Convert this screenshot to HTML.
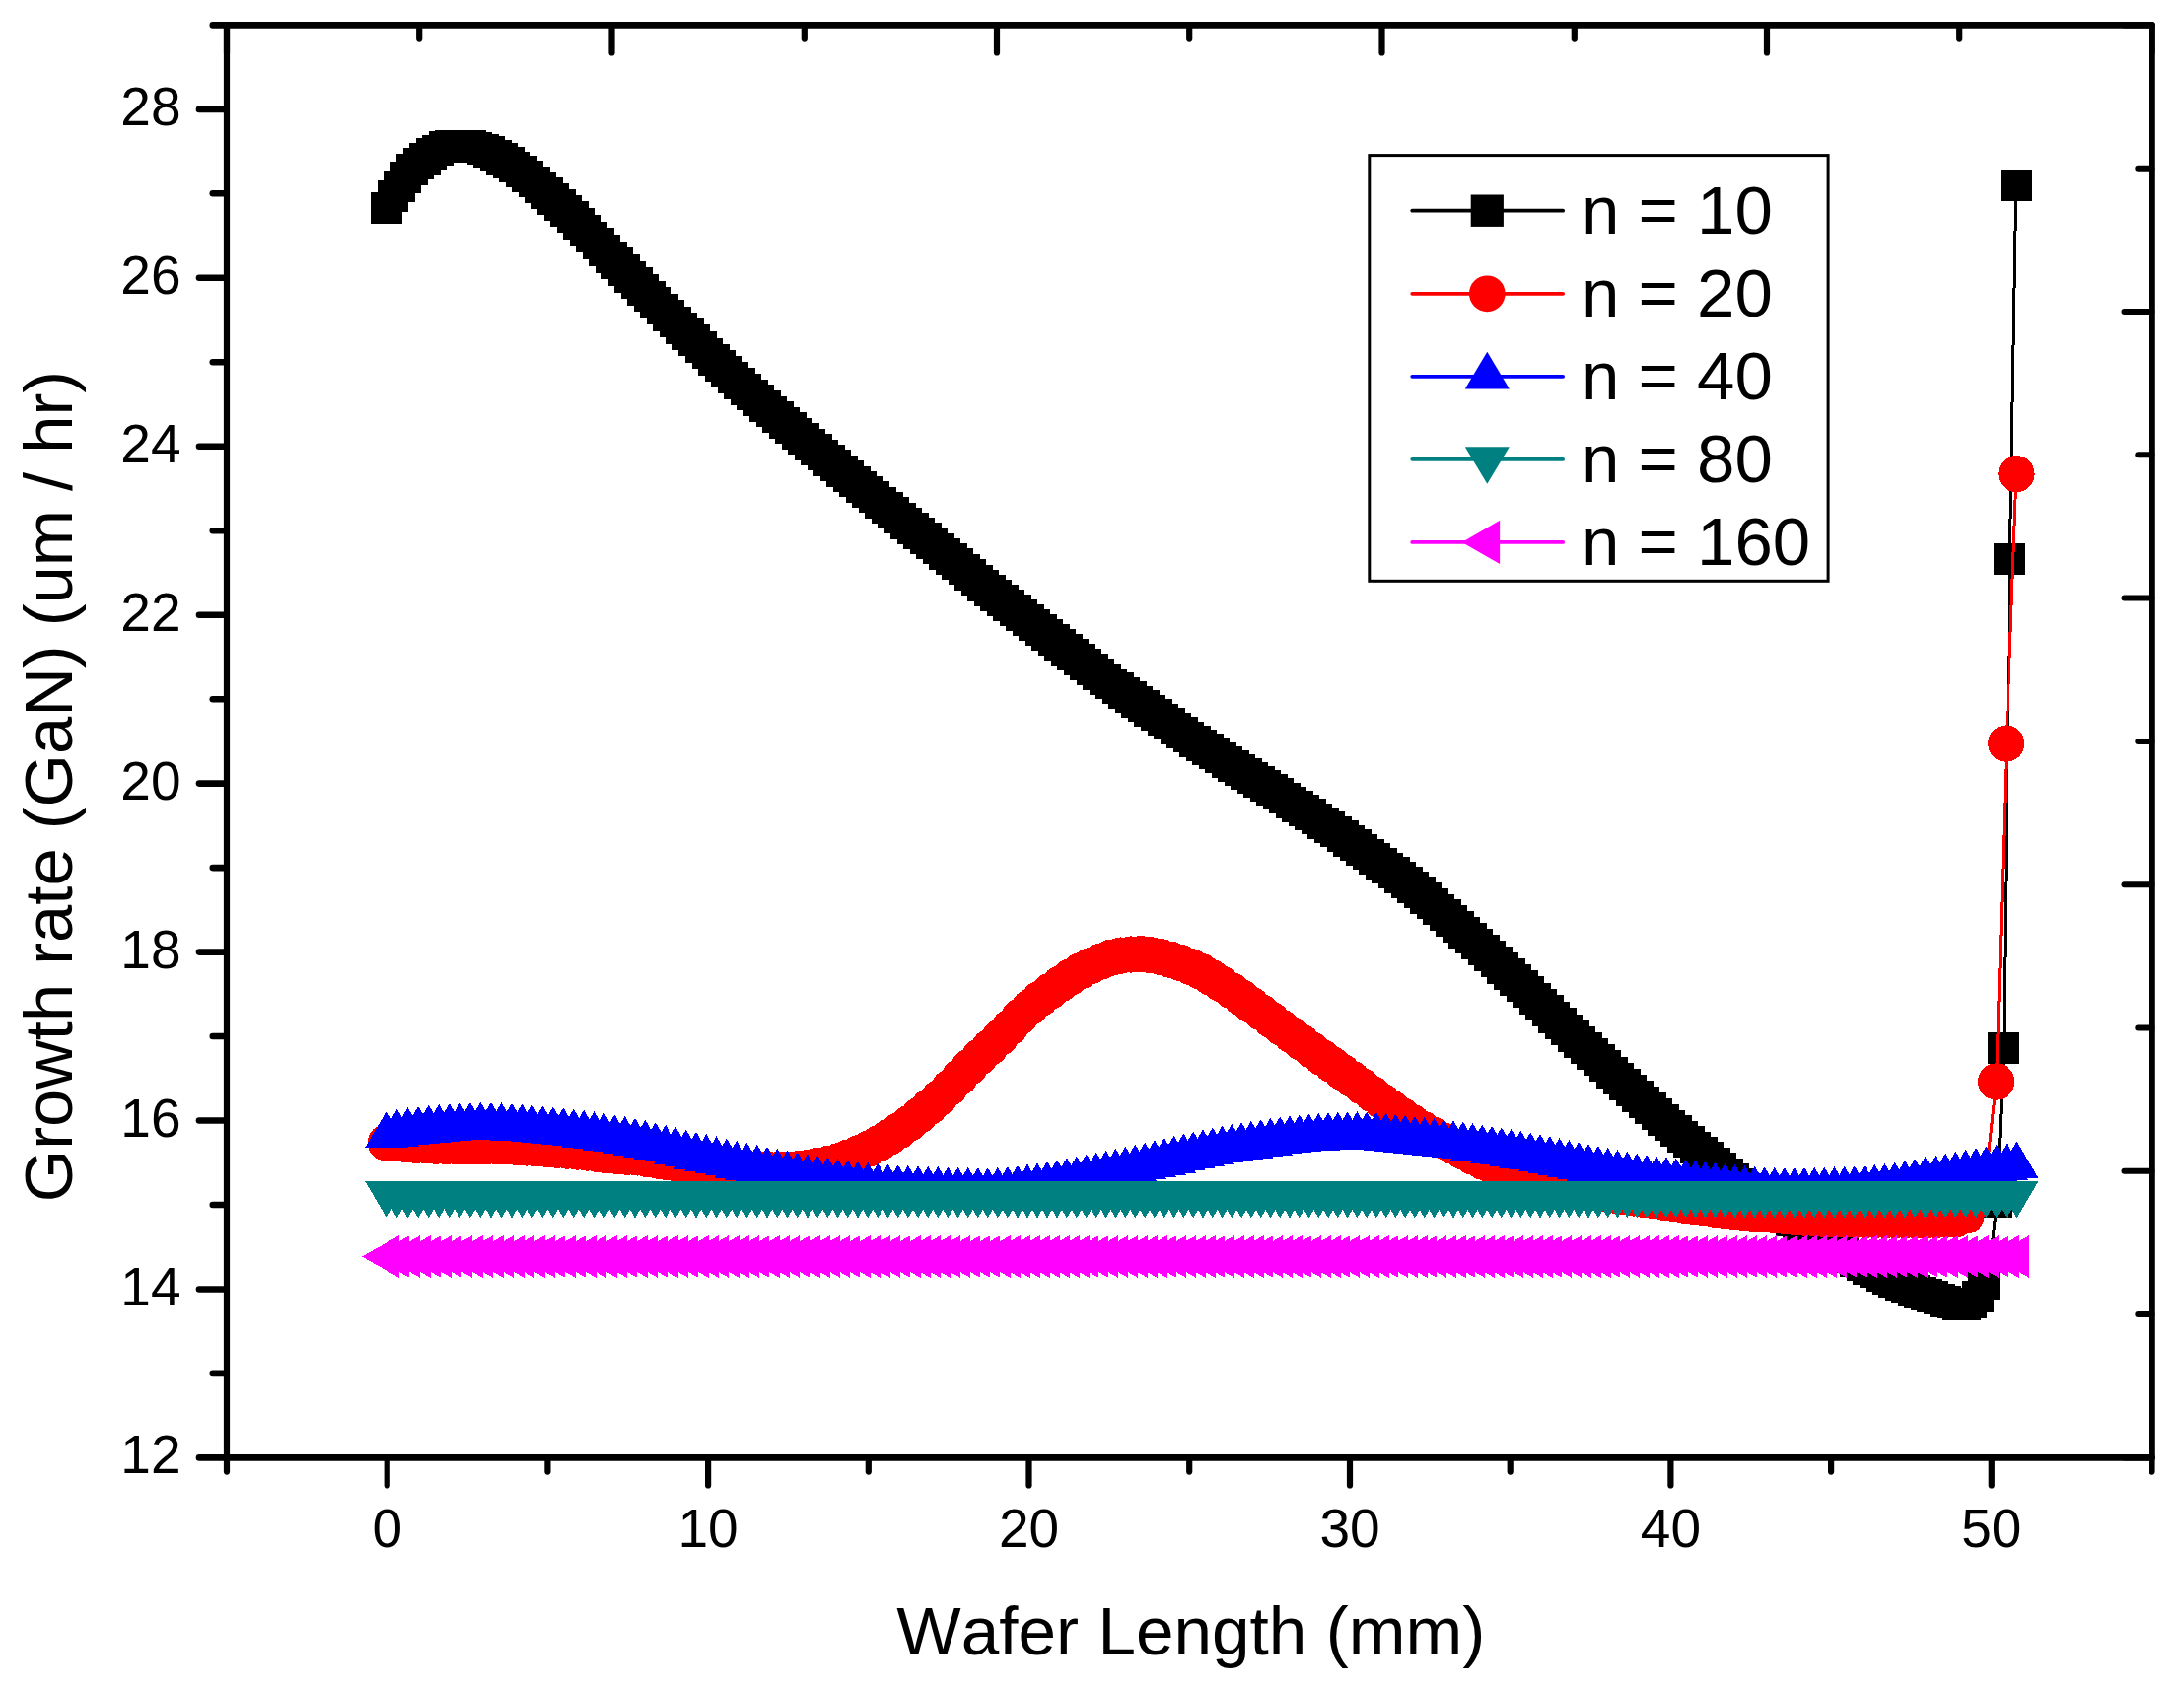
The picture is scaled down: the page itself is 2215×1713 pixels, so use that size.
<!DOCTYPE html>
<html lang="en"><head><meta charset="utf-8"><title>Growth rate (GaN) vs Wafer Length</title>
<style>html,body{margin:0;padding:0;background:#fff}svg{display:block}text{font-family:"Liberation Sans",sans-serif;fill:#000;font-kerning:none}</style></head><body>
<svg width="2215" height="1713" viewBox="0 0 2215 1713">
<rect width="2215" height="1713" fill="#fff"/>
<g shape-rendering="crispEdges">
<polyline points="392,211 398.5,199.2 405,188.8 411.5,180.2 418,172 424.5,165.9 431,160.6 437.5,156.3 444.1,152.4 450.6,149.1 457.1,148.2 463.6,148.1 470.1,148.1 476.6,148.3 483.1,149.5 489.6,151.5 496.1,154.2 502.6,157.5 509.1,161.1 515.6,165.1 522.1,169.5 528.6,174.1 535.2,179 541.7,184.4 548.2,190.1 554.7,195.8 561.2,201.6 567.7,207.7 574.2,213.9 580.7,220.2 587.2,226.8 593.7,233.6 600.2,240.5 606.7,247.3 613.2,254 619.7,260.7 626.3,267.3 632.8,274 639.3,280.6 645.8,287.2 652.3,293.8 658.8,300.4 665.3,306.9 671.8,313.5 678.3,320 684.8,326.4 691.3,332.7 697.8,338.9 704.3,345.2 710.8,351.7 717.4,358.4 723.9,364.7 730.4,370.9 736.9,377 743.4,383 749.9,388.9 756.4,394.7 762.9,400.4 769.4,406.1 775.9,411.8 782.4,417.5 788.9,423.2 795.4,428.8 801.9,434.3 808.5,439.8 815,445.3 821.5,450.7 828,456.1 834.5,461.5 841,466.9 847.5,472.3 854,477.7 860.5,483 867,488.4 873.5,493.7 880,499 886.5,504.3 893,509.6 899.6,514.9 906.1,520.1 912.6,525.4 919.1,530.7 925.6,535.9 932.1,541 938.6,546.2 945.1,551.3 951.6,556.5 958.1,561.7 964.6,566.9 971.1,572.2 977.6,577.5 984.1,582.9 990.7,588.5 997.2,593.8 1003.7,599.1 1010.2,604.2 1016.7,609.3 1023.2,614.3 1029.7,619.3 1036.2,624.2 1042.7,629.2 1049.2,634.2 1055.7,639.1 1062.2,644.2 1068.7,649.2 1075.2,654.2 1081.8,659.2 1088.3,664.2 1094.8,669.2 1101.3,674.2 1107.8,679 1114.3,683.9 1120.8,688.7 1127.3,693.4 1133.8,698 1140.3,702.7 1146.8,707.2 1153.3,711.8 1159.8,716.3 1166.3,720.8 1172.9,725.2 1179.4,729.7 1185.9,734.2 1192.4,738.6 1198.9,743 1205.4,747.4 1211.9,751.7 1218.4,755.9 1224.9,760.1 1231.4,764.3 1237.9,768.4 1244.4,772.6 1250.9,776.8 1257.4,780.9 1263.9,785 1270.5,789.1 1277,793.2 1283.5,797.2 1290,801.3 1296.5,805.3 1303,809.4 1309.5,813.6 1316,817.7 1322.5,821.9 1329,826.1 1335.5,830.4 1342,834.7 1348.5,839.1 1355,843.5 1361.6,848 1368.1,852.6 1374.6,857.1 1381.1,861.8 1387.6,866.4 1394.1,871.1 1400.6,875.8 1407.1,880.5 1413.6,885.1 1420.1,889.8 1426.6,894.6 1433.1,899.6 1439.6,905 1446.1,910.7 1452.7,916.5 1459.2,922.4 1465.7,928.3 1472.2,934 1478.7,939.8 1485.2,945.6 1491.7,951.5 1498.2,957.4 1504.7,963.4 1511.2,969.4 1517.7,975.5 1524.2,981.6 1530.7,987.7 1537.2,993.9 1543.8,1000.1 1550.3,1006.3 1556.8,1012.6 1563.3,1018.9 1569.8,1025.3 1576.3,1031.7 1582.8,1038.1 1589.3,1044.4 1595.8,1050.6 1602.3,1056.8 1608.8,1062.9 1615.3,1069 1621.8,1075.1 1628.3,1081.3 1634.9,1087.6 1641.4,1093.8 1647.9,1100 1654.4,1106.1 1660.9,1112.1 1667.4,1118.1 1673.9,1124.1 1680.4,1129.9 1686.9,1135.7 1693.4,1141.4 1699.9,1147.1 1706.4,1152.7 1712.9,1158.2 1719.4,1163.6 1726,1169 1732.5,1174.3 1739,1179.6 1745.5,1185 1752,1190.6 1758.5,1195.9 1765,1201.1 1771.5,1206.1 1778,1211.1 1784.5,1215.9 1791,1220.6 1797.5,1225.3 1804,1229.8 1810.5,1234.1 1817.1,1238.4 1823.6,1242.6 1830.1,1246.7 1836.6,1250.8 1843.1,1255 1849.6,1259.2 1856.1,1263.3 1862.6,1267.5 1869.1,1271.5 1875.6,1275.5 1882.1,1279.2 1888.6,1282.9 1895.1,1286.6 1901.6,1290.2 1908.2,1293.7 1914.7,1297.1 1921.2,1300.3 1927.7,1303.4 1934.2,1306.2 1940.7,1308.7 1947.2,1311.1 1953.7,1313.2 1960.2,1315.3 1966.7,1317.5 1973.2,1319.6 1979.7,1321.4 1986.2,1322.7 1992.7,1323.5 1999.3,1321.4 2005.8,1314.9 2012.3,1302.5 2018.8,1275 2025.3,1218.7 2031.8,1063.1 2038.3,567.2 2044.8,187.9" fill="none" stroke="#000" stroke-width="3" stroke-linejoin="round"/>
<path d="M376.1 195.1h31.8v31.8h-31.8zM382.6 183.3h31.8v31.8h-31.8zM389.1 172.9h31.8v31.8h-31.8zM395.6 164.3h31.8v31.8h-31.8zM402.1 156.1h31.8v31.8h-31.8zM408.6 150h31.8v31.8h-31.8zM415.1 144.7h31.8v31.8h-31.8zM421.6 140.4h31.8v31.8h-31.8zM428.2 136.5h31.8v31.8h-31.8zM434.7 133.2h31.8v31.8h-31.8zM441.2 132.3h31.8v31.8h-31.8zM447.7 132.2h31.8v31.8h-31.8zM454.2 132.2h31.8v31.8h-31.8zM460.7 132.4h31.8v31.8h-31.8zM467.2 133.6h31.8v31.8h-31.8zM473.7 135.6h31.8v31.8h-31.8zM480.2 138.3h31.8v31.8h-31.8zM486.7 141.6h31.8v31.8h-31.8zM493.2 145.2h31.8v31.8h-31.8zM499.7 149.2h31.8v31.8h-31.8zM506.2 153.6h31.8v31.8h-31.8zM512.7 158.2h31.8v31.8h-31.8zM519.3 163.1h31.8v31.8h-31.8zM525.8 168.5h31.8v31.8h-31.8zM532.3 174.2h31.8v31.8h-31.8zM538.8 179.9h31.8v31.8h-31.8zM545.3 185.7h31.8v31.8h-31.8zM551.8 191.8h31.8v31.8h-31.8zM558.3 198h31.8v31.8h-31.8zM564.8 204.3h31.8v31.8h-31.8zM571.3 210.9h31.8v31.8h-31.8zM577.8 217.7h31.8v31.8h-31.8zM584.3 224.6h31.8v31.8h-31.8zM590.8 231.4h31.8v31.8h-31.8zM597.3 238.1h31.8v31.8h-31.8zM603.8 244.8h31.8v31.8h-31.8zM610.4 251.4h31.8v31.8h-31.8zM616.9 258.1h31.8v31.8h-31.8zM623.4 264.7h31.8v31.8h-31.8zM629.9 271.3h31.8v31.8h-31.8zM636.4 277.9h31.8v31.8h-31.8zM642.9 284.5h31.8v31.8h-31.8zM649.4 291h31.8v31.8h-31.8zM655.9 297.6h31.8v31.8h-31.8zM662.4 304.1h31.8v31.8h-31.8zM668.9 310.5h31.8v31.8h-31.8zM675.4 316.8h31.8v31.8h-31.8zM681.9 323h31.8v31.8h-31.8zM688.4 329.3h31.8v31.8h-31.8zM694.9 335.8h31.8v31.8h-31.8zM701.5 342.5h31.8v31.8h-31.8zM708 348.8h31.8v31.8h-31.8zM714.5 355h31.8v31.8h-31.8zM721 361.1h31.8v31.8h-31.8zM727.5 367.1h31.8v31.8h-31.8zM734 373h31.8v31.8h-31.8zM740.5 378.8h31.8v31.8h-31.8zM747 384.5h31.8v31.8h-31.8zM753.5 390.2h31.8v31.8h-31.8zM760 395.9h31.8v31.8h-31.8zM766.5 401.6h31.8v31.8h-31.8zM773 407.3h31.8v31.8h-31.8zM779.5 412.9h31.8v31.8h-31.8zM786 418.4h31.8v31.8h-31.8zM792.6 423.9h31.8v31.8h-31.8zM799.1 429.4h31.8v31.8h-31.8zM805.6 434.8h31.8v31.8h-31.8zM812.1 440.2h31.8v31.8h-31.8zM818.6 445.6h31.8v31.8h-31.8zM825.1 451h31.8v31.8h-31.8zM831.6 456.4h31.8v31.8h-31.8zM838.1 461.8h31.8v31.8h-31.8zM844.6 467.1h31.8v31.8h-31.8zM851.1 472.5h31.8v31.8h-31.8zM857.6 477.8h31.8v31.8h-31.8zM864.1 483.1h31.8v31.8h-31.8zM870.6 488.4h31.8v31.8h-31.8zM877.1 493.7h31.8v31.8h-31.8zM883.7 499h31.8v31.8h-31.8zM890.2 504.2h31.8v31.8h-31.8zM896.7 509.5h31.8v31.8h-31.8zM903.2 514.8h31.8v31.8h-31.8zM909.7 520h31.8v31.8h-31.8zM916.2 525.1h31.8v31.8h-31.8zM922.7 530.3h31.8v31.8h-31.8zM929.2 535.4h31.8v31.8h-31.8zM935.7 540.6h31.8v31.8h-31.8zM942.2 545.8h31.8v31.8h-31.8zM948.7 551h31.8v31.8h-31.8zM955.2 556.3h31.8v31.8h-31.8zM961.7 561.6h31.8v31.8h-31.8zM968.2 567h31.8v31.8h-31.8zM974.8 572.6h31.8v31.8h-31.8zM981.3 577.9h31.8v31.8h-31.8zM987.8 583.2h31.8v31.8h-31.8zM994.3 588.3h31.8v31.8h-31.8zM1000.8 593.4h31.8v31.8h-31.8zM1007.3 598.4h31.8v31.8h-31.8zM1013.8 603.4h31.8v31.8h-31.8zM1020.3 608.3h31.8v31.8h-31.8zM1026.8 613.3h31.8v31.8h-31.8zM1033.3 618.3h31.8v31.8h-31.8zM1039.8 623.2h31.8v31.8h-31.8zM1046.3 628.3h31.8v31.8h-31.8zM1052.8 633.3h31.8v31.8h-31.8zM1059.3 638.3h31.8v31.8h-31.8zM1065.9 643.3h31.8v31.8h-31.8zM1072.4 648.3h31.8v31.8h-31.8zM1078.9 653.3h31.8v31.8h-31.8zM1085.4 658.3h31.8v31.8h-31.8zM1091.9 663.1h31.8v31.8h-31.8zM1098.4 668h31.8v31.8h-31.8zM1104.9 672.8h31.8v31.8h-31.8zM1111.4 677.5h31.8v31.8h-31.8zM1117.9 682.1h31.8v31.8h-31.8zM1124.4 686.8h31.8v31.8h-31.8zM1130.9 691.3h31.8v31.8h-31.8zM1137.4 695.9h31.8v31.8h-31.8zM1143.9 700.4h31.8v31.8h-31.8zM1150.4 704.9h31.8v31.8h-31.8zM1157 709.3h31.8v31.8h-31.8zM1163.5 713.8h31.8v31.8h-31.8zM1170 718.3h31.8v31.8h-31.8zM1176.5 722.7h31.8v31.8h-31.8zM1183 727.1h31.8v31.8h-31.8zM1189.5 731.5h31.8v31.8h-31.8zM1196 735.8h31.8v31.8h-31.8zM1202.5 740h31.8v31.8h-31.8zM1209 744.2h31.8v31.8h-31.8zM1215.5 748.4h31.8v31.8h-31.8zM1222 752.5h31.8v31.8h-31.8zM1228.5 756.7h31.8v31.8h-31.8zM1235 760.9h31.8v31.8h-31.8zM1241.5 765h31.8v31.8h-31.8zM1248 769.1h31.8v31.8h-31.8zM1254.6 773.2h31.8v31.8h-31.8zM1261.1 777.3h31.8v31.8h-31.8zM1267.6 781.3h31.8v31.8h-31.8zM1274.1 785.4h31.8v31.8h-31.8zM1280.6 789.4h31.8v31.8h-31.8zM1287.1 793.5h31.8v31.8h-31.8zM1293.6 797.7h31.8v31.8h-31.8zM1300.1 801.8h31.8v31.8h-31.8zM1306.6 806h31.8v31.8h-31.8zM1313.1 810.2h31.8v31.8h-31.8zM1319.6 814.5h31.8v31.8h-31.8zM1326.1 818.8h31.8v31.8h-31.8zM1332.6 823.2h31.8v31.8h-31.8zM1339.1 827.6h31.8v31.8h-31.8zM1345.7 832.1h31.8v31.8h-31.8zM1352.2 836.7h31.8v31.8h-31.8zM1358.7 841.2h31.8v31.8h-31.8zM1365.2 845.9h31.8v31.8h-31.8zM1371.7 850.5h31.8v31.8h-31.8zM1378.2 855.2h31.8v31.8h-31.8zM1384.7 859.9h31.8v31.8h-31.8zM1391.2 864.6h31.8v31.8h-31.8zM1397.7 869.2h31.8v31.8h-31.8zM1404.2 873.9h31.8v31.8h-31.8zM1410.7 878.7h31.8v31.8h-31.8zM1417.2 883.7h31.8v31.8h-31.8zM1423.7 889.1h31.8v31.8h-31.8zM1430.2 894.8h31.8v31.8h-31.8zM1436.8 900.6h31.8v31.8h-31.8zM1443.3 906.5h31.8v31.8h-31.8zM1449.8 912.4h31.8v31.8h-31.8zM1456.3 918.1h31.8v31.8h-31.8zM1462.8 923.9h31.8v31.8h-31.8zM1469.3 929.7h31.8v31.8h-31.8zM1475.8 935.6h31.8v31.8h-31.8zM1482.3 941.5h31.8v31.8h-31.8zM1488.8 947.5h31.8v31.8h-31.8zM1495.3 953.5h31.8v31.8h-31.8zM1501.8 959.6h31.8v31.8h-31.8zM1508.3 965.7h31.8v31.8h-31.8zM1514.8 971.8h31.8v31.8h-31.8zM1521.3 978h31.8v31.8h-31.8zM1527.9 984.2h31.8v31.8h-31.8zM1534.4 990.4h31.8v31.8h-31.8zM1540.9 996.7h31.8v31.8h-31.8zM1547.4 1003h31.8v31.8h-31.8zM1553.9 1009.4h31.8v31.8h-31.8zM1560.4 1015.8h31.8v31.8h-31.8zM1566.9 1022.2h31.8v31.8h-31.8zM1573.4 1028.5h31.8v31.8h-31.8zM1579.9 1034.7h31.8v31.8h-31.8zM1586.4 1040.9h31.8v31.8h-31.8zM1592.9 1047h31.8v31.8h-31.8zM1599.4 1053.1h31.8v31.8h-31.8zM1605.9 1059.2h31.8v31.8h-31.8zM1612.4 1065.4h31.8v31.8h-31.8zM1619 1071.7h31.8v31.8h-31.8zM1625.5 1077.9h31.8v31.8h-31.8zM1632 1084.1h31.8v31.8h-31.8zM1638.5 1090.2h31.8v31.8h-31.8zM1645 1096.2h31.8v31.8h-31.8zM1651.5 1102.2h31.8v31.8h-31.8zM1658 1108.2h31.8v31.8h-31.8zM1664.5 1114h31.8v31.8h-31.8zM1671 1119.8h31.8v31.8h-31.8zM1677.5 1125.5h31.8v31.8h-31.8zM1684 1131.2h31.8v31.8h-31.8zM1690.5 1136.8h31.8v31.8h-31.8zM1697 1142.3h31.8v31.8h-31.8zM1703.5 1147.7h31.8v31.8h-31.8zM1710.1 1153.1h31.8v31.8h-31.8zM1716.6 1158.4h31.8v31.8h-31.8zM1723.1 1163.7h31.8v31.8h-31.8zM1729.6 1169.1h31.8v31.8h-31.8zM1736.1 1174.7h31.8v31.8h-31.8zM1742.6 1180h31.8v31.8h-31.8zM1749.1 1185.2h31.8v31.8h-31.8zM1755.6 1190.2h31.8v31.8h-31.8zM1762.1 1195.2h31.8v31.8h-31.8zM1768.6 1200h31.8v31.8h-31.8zM1775.1 1204.7h31.8v31.8h-31.8zM1781.6 1209.4h31.8v31.8h-31.8zM1788.1 1213.9h31.8v31.8h-31.8zM1794.6 1218.2h31.8v31.8h-31.8zM1801.2 1222.5h31.8v31.8h-31.8zM1807.7 1226.7h31.8v31.8h-31.8zM1814.2 1230.8h31.8v31.8h-31.8zM1820.7 1234.9h31.8v31.8h-31.8zM1827.2 1239.1h31.8v31.8h-31.8zM1833.7 1243.3h31.8v31.8h-31.8zM1840.2 1247.4h31.8v31.8h-31.8zM1846.7 1251.6h31.8v31.8h-31.8zM1853.2 1255.6h31.8v31.8h-31.8zM1859.7 1259.6h31.8v31.8h-31.8zM1866.2 1263.3h31.8v31.8h-31.8zM1872.7 1267h31.8v31.8h-31.8zM1879.2 1270.7h31.8v31.8h-31.8zM1885.7 1274.3h31.8v31.8h-31.8zM1892.3 1277.8h31.8v31.8h-31.8zM1898.8 1281.2h31.8v31.8h-31.8zM1905.3 1284.4h31.8v31.8h-31.8zM1911.8 1287.5h31.8v31.8h-31.8zM1918.3 1290.3h31.8v31.8h-31.8zM1924.8 1292.8h31.8v31.8h-31.8zM1931.3 1295.2h31.8v31.8h-31.8zM1937.8 1297.3h31.8v31.8h-31.8zM1944.3 1299.4h31.8v31.8h-31.8zM1950.8 1301.6h31.8v31.8h-31.8zM1957.3 1303.7h31.8v31.8h-31.8zM1963.8 1305.5h31.8v31.8h-31.8zM1970.3 1306.8h31.8v31.8h-31.8zM1976.8 1307.6h31.8v31.8h-31.8zM1983.4 1305.5h31.8v31.8h-31.8zM1989.9 1299h31.8v31.8h-31.8zM1996.4 1286.6h31.8v31.8h-31.8zM2002.9 1259.1h31.8v31.8h-31.8zM2009.4 1202.8h31.8v31.8h-31.8zM2015.9 1047.2h31.8v31.8h-31.8zM2022.4 551.3h31.8v31.8h-31.8zM2028.9 172h31.8v31.8h-31.8z" fill="#000"/>
<polyline points="391.3,1158.5 401.5,1159.4 411.7,1160.3 421.9,1160.9 432.1,1161.4 442.3,1161.8 452.5,1162.2 462.8,1162.3 473,1162.3 483.2,1162.3 493.4,1162.3 503.6,1162.3 513.8,1162.5 524,1162.9 534.2,1163.6 544.4,1164.3 554.6,1165 564.8,1165.8 575,1166.7 585.3,1167.6 595.5,1168.7 605.7,1169.9 615.9,1171.1 626.1,1172.1 636.3,1172.8 646.5,1173.6 656.7,1175.1 666.9,1176.7 677.1,1178.3 687.3,1179.6 697.5,1180.8 707.7,1182.1 718,1183.2 728.2,1184.3 738.4,1185.2 748.6,1185.7 758.8,1186 769,1186 779.2,1186 789.4,1186 799.6,1185.9 809.8,1185.2 820,1183.8 830.2,1181.9 840.5,1179.9 850.7,1177.2 860.9,1173.5 871.1,1169.2 881.3,1164.5 891.5,1159.1 901.7,1153 911.9,1146.3 922.1,1139 932.3,1130.9 942.5,1122.1 952.7,1112.9 962.9,1102.8 973.2,1092.2 983.4,1081.6 993.6,1071.6 1003.8,1061.9 1014,1052 1024.2,1041.5 1034.4,1030.6 1044.6,1021.3 1054.8,1012.7 1065,1004.9 1075.2,997.6 1085.4,990.6 1095.7,984.4 1105.9,979.4 1116.1,974.8 1126.3,971 1136.5,968.7 1146.7,967.6 1156.9,967.3 1167.1,968.4 1177.3,970.2 1187.5,972.9 1197.7,976.3 1207.9,980.2 1218.2,985.1 1228.4,991 1238.6,997.4 1248.8,1004.1 1259,1011.4 1269.2,1019 1279.4,1026.5 1289.6,1034.2 1299.8,1041.9 1310,1049.4 1320.2,1057 1330.4,1064.5 1340.6,1072 1350.9,1079.4 1361.1,1086.8 1371.3,1094.1 1381.5,1101.5 1391.7,1109 1401.9,1116.6 1412.1,1124.1 1422.3,1131.3 1432.5,1138.3 1442.7,1144.8 1452.9,1150.6 1463.1,1156.3 1473.4,1161.9 1483.6,1167.4 1493.8,1172.7 1504,1177.7 1514.2,1182.3 1524.4,1186.6 1534.6,1190.3 1544.8,1193.6 1555,1196.3 1565.2,1198.7 1575.4,1201 1585.6,1203 1595.8,1205 1606.1,1206.8 1616.3,1208.5 1626.5,1210.1 1636.7,1211.6 1646.9,1213.1 1657.1,1214.6 1667.3,1216 1677.5,1217.4 1687.7,1218.9 1697.9,1220.3 1708.1,1221.8 1718.3,1223.1 1728.6,1224.5 1738.8,1225.8 1749,1227 1759.2,1228.2 1769.4,1229.4 1779.6,1230.4 1789.8,1231.3 1800,1232.2 1810.2,1233.1 1820.4,1234 1830.6,1234.8 1840.8,1235.5 1851,1236.1 1861.3,1236.5 1871.5,1236.7 1881.7,1236.8 1891.9,1236.9 1902.1,1237 1912.3,1237.1 1922.5,1237.2 1932.7,1237.2 1942.9,1237.2 1953.1,1237.2 1963.3,1237 1973.5,1236.7 1983.8,1236.3 1994,1232.5 2004.2,1216 2014.4,1192 2024.6,1096.6 2034.8,753.7 2045,480.2" fill="none" stroke="#f00" stroke-width="3" stroke-linejoin="round"/>
<path d="M372.7 1158.9a18.6 18.6 0 1 0 37.2 0a18.6 18.6 0 1 0 -37.2 0zM382.9 1159.8a18.6 18.6 0 1 0 37.2 0a18.6 18.6 0 1 0 -37.2 0zM393.1 1160.7a18.6 18.6 0 1 0 37.2 0a18.6 18.6 0 1 0 -37.2 0zM403.3 1161.3a18.6 18.6 0 1 0 37.2 0a18.6 18.6 0 1 0 -37.2 0zM413.5 1161.8a18.6 18.6 0 1 0 37.2 0a18.6 18.6 0 1 0 -37.2 0zM423.7 1162.2a18.6 18.6 0 1 0 37.2 0a18.6 18.6 0 1 0 -37.2 0zM433.9 1162.6a18.6 18.6 0 1 0 37.2 0a18.6 18.6 0 1 0 -37.2 0zM444.2 1162.7a18.6 18.6 0 1 0 37.2 0a18.6 18.6 0 1 0 -37.2 0zM454.4 1162.7a18.6 18.6 0 1 0 37.2 0a18.6 18.6 0 1 0 -37.2 0zM464.6 1162.7a18.6 18.6 0 1 0 37.2 0a18.6 18.6 0 1 0 -37.2 0zM474.8 1162.7a18.6 18.6 0 1 0 37.2 0a18.6 18.6 0 1 0 -37.2 0zM485 1162.7a18.6 18.6 0 1 0 37.2 0a18.6 18.6 0 1 0 -37.2 0zM495.2 1162.9a18.6 18.6 0 1 0 37.2 0a18.6 18.6 0 1 0 -37.2 0zM505.4 1163.3a18.6 18.6 0 1 0 37.2 0a18.6 18.6 0 1 0 -37.2 0zM515.6 1164a18.6 18.6 0 1 0 37.2 0a18.6 18.6 0 1 0 -37.2 0zM525.8 1164.7a18.6 18.6 0 1 0 37.2 0a18.6 18.6 0 1 0 -37.2 0zM536 1165.4a18.6 18.6 0 1 0 37.2 0a18.6 18.6 0 1 0 -37.2 0zM546.2 1166.2a18.6 18.6 0 1 0 37.2 0a18.6 18.6 0 1 0 -37.2 0zM556.4 1167.1a18.6 18.6 0 1 0 37.2 0a18.6 18.6 0 1 0 -37.2 0zM566.7 1168a18.6 18.6 0 1 0 37.2 0a18.6 18.6 0 1 0 -37.2 0zM576.9 1169.1a18.6 18.6 0 1 0 37.2 0a18.6 18.6 0 1 0 -37.2 0zM587.1 1170.3a18.6 18.6 0 1 0 37.2 0a18.6 18.6 0 1 0 -37.2 0zM597.3 1171.5a18.6 18.6 0 1 0 37.2 0a18.6 18.6 0 1 0 -37.2 0zM607.5 1172.5a18.6 18.6 0 1 0 37.2 0a18.6 18.6 0 1 0 -37.2 0zM617.7 1173.2a18.6 18.6 0 1 0 37.2 0a18.6 18.6 0 1 0 -37.2 0zM627.9 1174a18.6 18.6 0 1 0 37.2 0a18.6 18.6 0 1 0 -37.2 0zM638.1 1175.5a18.6 18.6 0 1 0 37.2 0a18.6 18.6 0 1 0 -37.2 0zM648.3 1177.1a18.6 18.6 0 1 0 37.2 0a18.6 18.6 0 1 0 -37.2 0zM658.5 1178.7a18.6 18.6 0 1 0 37.2 0a18.6 18.6 0 1 0 -37.2 0zM668.7 1180a18.6 18.6 0 1 0 37.2 0a18.6 18.6 0 1 0 -37.2 0zM678.9 1181.2a18.6 18.6 0 1 0 37.2 0a18.6 18.6 0 1 0 -37.2 0zM689.1 1182.5a18.6 18.6 0 1 0 37.2 0a18.6 18.6 0 1 0 -37.2 0zM699.4 1183.6a18.6 18.6 0 1 0 37.2 0a18.6 18.6 0 1 0 -37.2 0zM709.6 1184.7a18.6 18.6 0 1 0 37.2 0a18.6 18.6 0 1 0 -37.2 0zM719.8 1185.6a18.6 18.6 0 1 0 37.2 0a18.6 18.6 0 1 0 -37.2 0zM730 1186.1a18.6 18.6 0 1 0 37.2 0a18.6 18.6 0 1 0 -37.2 0zM740.2 1186.4a18.6 18.6 0 1 0 37.2 0a18.6 18.6 0 1 0 -37.2 0zM750.4 1186.4a18.6 18.6 0 1 0 37.2 0a18.6 18.6 0 1 0 -37.2 0zM760.6 1186.4a18.6 18.6 0 1 0 37.2 0a18.6 18.6 0 1 0 -37.2 0zM770.8 1186.4a18.6 18.6 0 1 0 37.2 0a18.6 18.6 0 1 0 -37.2 0zM781 1186.3a18.6 18.6 0 1 0 37.2 0a18.6 18.6 0 1 0 -37.2 0zM791.2 1185.6a18.6 18.6 0 1 0 37.2 0a18.6 18.6 0 1 0 -37.2 0zM801.4 1184.2a18.6 18.6 0 1 0 37.2 0a18.6 18.6 0 1 0 -37.2 0zM811.6 1182.3a18.6 18.6 0 1 0 37.2 0a18.6 18.6 0 1 0 -37.2 0zM821.9 1180.3a18.6 18.6 0 1 0 37.2 0a18.6 18.6 0 1 0 -37.2 0zM832.1 1177.6a18.6 18.6 0 1 0 37.2 0a18.6 18.6 0 1 0 -37.2 0zM842.3 1173.9a18.6 18.6 0 1 0 37.2 0a18.6 18.6 0 1 0 -37.2 0zM852.5 1169.6a18.6 18.6 0 1 0 37.2 0a18.6 18.6 0 1 0 -37.2 0zM862.7 1164.9a18.6 18.6 0 1 0 37.2 0a18.6 18.6 0 1 0 -37.2 0zM872.9 1159.5a18.6 18.6 0 1 0 37.2 0a18.6 18.6 0 1 0 -37.2 0zM883.1 1153.4a18.6 18.6 0 1 0 37.2 0a18.6 18.6 0 1 0 -37.2 0zM893.3 1146.7a18.6 18.6 0 1 0 37.2 0a18.6 18.6 0 1 0 -37.2 0zM903.5 1139.4a18.6 18.6 0 1 0 37.2 0a18.6 18.6 0 1 0 -37.2 0zM913.7 1131.3a18.6 18.6 0 1 0 37.2 0a18.6 18.6 0 1 0 -37.2 0zM923.9 1122.5a18.6 18.6 0 1 0 37.2 0a18.6 18.6 0 1 0 -37.2 0zM934.1 1113.3a18.6 18.6 0 1 0 37.2 0a18.6 18.6 0 1 0 -37.2 0zM944.3 1103.2a18.6 18.6 0 1 0 37.2 0a18.6 18.6 0 1 0 -37.2 0zM954.6 1092.6a18.6 18.6 0 1 0 37.2 0a18.6 18.6 0 1 0 -37.2 0zM964.8 1082a18.6 18.6 0 1 0 37.2 0a18.6 18.6 0 1 0 -37.2 0zM975 1072a18.6 18.6 0 1 0 37.2 0a18.6 18.6 0 1 0 -37.2 0zM985.2 1062.3a18.6 18.6 0 1 0 37.2 0a18.6 18.6 0 1 0 -37.2 0zM995.4 1052.4a18.6 18.6 0 1 0 37.2 0a18.6 18.6 0 1 0 -37.2 0zM1005.6 1041.9a18.6 18.6 0 1 0 37.2 0a18.6 18.6 0 1 0 -37.2 0zM1015.8 1031a18.6 18.6 0 1 0 37.2 0a18.6 18.6 0 1 0 -37.2 0zM1026 1021.7a18.6 18.6 0 1 0 37.2 0a18.6 18.6 0 1 0 -37.2 0zM1036.2 1013.1a18.6 18.6 0 1 0 37.2 0a18.6 18.6 0 1 0 -37.2 0zM1046.4 1005.3a18.6 18.6 0 1 0 37.2 0a18.6 18.6 0 1 0 -37.2 0zM1056.6 998a18.6 18.6 0 1 0 37.2 0a18.6 18.6 0 1 0 -37.2 0zM1066.8 991a18.6 18.6 0 1 0 37.2 0a18.6 18.6 0 1 0 -37.2 0zM1077.1 984.8a18.6 18.6 0 1 0 37.2 0a18.6 18.6 0 1 0 -37.2 0zM1087.3 979.8a18.6 18.6 0 1 0 37.2 0a18.6 18.6 0 1 0 -37.2 0zM1097.5 975.2a18.6 18.6 0 1 0 37.2 0a18.6 18.6 0 1 0 -37.2 0zM1107.7 971.4a18.6 18.6 0 1 0 37.2 0a18.6 18.6 0 1 0 -37.2 0zM1117.9 969.1a18.6 18.6 0 1 0 37.2 0a18.6 18.6 0 1 0 -37.2 0zM1128.1 968a18.6 18.6 0 1 0 37.2 0a18.6 18.6 0 1 0 -37.2 0zM1138.3 967.7a18.6 18.6 0 1 0 37.2 0a18.6 18.6 0 1 0 -37.2 0zM1148.5 968.8a18.6 18.6 0 1 0 37.2 0a18.6 18.6 0 1 0 -37.2 0zM1158.7 970.6a18.6 18.6 0 1 0 37.2 0a18.6 18.6 0 1 0 -37.2 0zM1168.9 973.3a18.6 18.6 0 1 0 37.2 0a18.6 18.6 0 1 0 -37.2 0zM1179.1 976.7a18.6 18.6 0 1 0 37.2 0a18.6 18.6 0 1 0 -37.2 0zM1189.3 980.6a18.6 18.6 0 1 0 37.2 0a18.6 18.6 0 1 0 -37.2 0zM1199.6 985.5a18.6 18.6 0 1 0 37.2 0a18.6 18.6 0 1 0 -37.2 0zM1209.8 991.4a18.6 18.6 0 1 0 37.2 0a18.6 18.6 0 1 0 -37.2 0zM1220 997.8a18.6 18.6 0 1 0 37.2 0a18.6 18.6 0 1 0 -37.2 0zM1230.2 1004.5a18.6 18.6 0 1 0 37.2 0a18.6 18.6 0 1 0 -37.2 0zM1240.4 1011.8a18.6 18.6 0 1 0 37.2 0a18.6 18.6 0 1 0 -37.2 0zM1250.6 1019.4a18.6 18.6 0 1 0 37.2 0a18.6 18.6 0 1 0 -37.2 0zM1260.8 1026.9a18.6 18.6 0 1 0 37.2 0a18.6 18.6 0 1 0 -37.2 0zM1271 1034.6a18.6 18.6 0 1 0 37.2 0a18.6 18.6 0 1 0 -37.2 0zM1281.2 1042.3a18.6 18.6 0 1 0 37.2 0a18.6 18.6 0 1 0 -37.2 0zM1291.4 1049.8a18.6 18.6 0 1 0 37.2 0a18.6 18.6 0 1 0 -37.2 0zM1301.6 1057.4a18.6 18.6 0 1 0 37.2 0a18.6 18.6 0 1 0 -37.2 0zM1311.8 1064.9a18.6 18.6 0 1 0 37.2 0a18.6 18.6 0 1 0 -37.2 0zM1322 1072.4a18.6 18.6 0 1 0 37.2 0a18.6 18.6 0 1 0 -37.2 0zM1332.3 1079.8a18.6 18.6 0 1 0 37.2 0a18.6 18.6 0 1 0 -37.2 0zM1342.5 1087.2a18.6 18.6 0 1 0 37.2 0a18.6 18.6 0 1 0 -37.2 0zM1352.7 1094.5a18.6 18.6 0 1 0 37.2 0a18.6 18.6 0 1 0 -37.2 0zM1362.9 1101.9a18.6 18.6 0 1 0 37.2 0a18.6 18.6 0 1 0 -37.2 0zM1373.1 1109.4a18.6 18.6 0 1 0 37.2 0a18.6 18.6 0 1 0 -37.2 0zM1383.3 1117a18.6 18.6 0 1 0 37.2 0a18.6 18.6 0 1 0 -37.2 0zM1393.5 1124.5a18.6 18.6 0 1 0 37.2 0a18.6 18.6 0 1 0 -37.2 0zM1403.7 1131.7a18.6 18.6 0 1 0 37.2 0a18.6 18.6 0 1 0 -37.2 0zM1413.9 1138.7a18.6 18.6 0 1 0 37.2 0a18.6 18.6 0 1 0 -37.2 0zM1424.1 1145.2a18.6 18.6 0 1 0 37.2 0a18.6 18.6 0 1 0 -37.2 0zM1434.3 1151a18.6 18.6 0 1 0 37.2 0a18.6 18.6 0 1 0 -37.2 0zM1444.5 1156.7a18.6 18.6 0 1 0 37.2 0a18.6 18.6 0 1 0 -37.2 0zM1454.8 1162.3a18.6 18.6 0 1 0 37.2 0a18.6 18.6 0 1 0 -37.2 0zM1465 1167.8a18.6 18.6 0 1 0 37.2 0a18.6 18.6 0 1 0 -37.2 0zM1475.2 1173.1a18.6 18.6 0 1 0 37.2 0a18.6 18.6 0 1 0 -37.2 0zM1485.4 1178.1a18.6 18.6 0 1 0 37.2 0a18.6 18.6 0 1 0 -37.2 0zM1495.6 1182.7a18.6 18.6 0 1 0 37.2 0a18.6 18.6 0 1 0 -37.2 0zM1505.8 1187a18.6 18.6 0 1 0 37.2 0a18.6 18.6 0 1 0 -37.2 0zM1516 1190.7a18.6 18.6 0 1 0 37.2 0a18.6 18.6 0 1 0 -37.2 0zM1526.2 1194a18.6 18.6 0 1 0 37.2 0a18.6 18.6 0 1 0 -37.2 0zM1536.4 1196.7a18.6 18.6 0 1 0 37.2 0a18.6 18.6 0 1 0 -37.2 0zM1546.6 1199.1a18.6 18.6 0 1 0 37.2 0a18.6 18.6 0 1 0 -37.2 0zM1556.8 1201.4a18.6 18.6 0 1 0 37.2 0a18.6 18.6 0 1 0 -37.2 0zM1567 1203.4a18.6 18.6 0 1 0 37.2 0a18.6 18.6 0 1 0 -37.2 0zM1577.2 1205.4a18.6 18.6 0 1 0 37.2 0a18.6 18.6 0 1 0 -37.2 0zM1587.5 1207.2a18.6 18.6 0 1 0 37.2 0a18.6 18.6 0 1 0 -37.2 0zM1597.7 1208.9a18.6 18.6 0 1 0 37.2 0a18.6 18.6 0 1 0 -37.2 0zM1607.9 1210.5a18.6 18.6 0 1 0 37.2 0a18.6 18.6 0 1 0 -37.2 0zM1618.1 1212a18.6 18.6 0 1 0 37.2 0a18.6 18.6 0 1 0 -37.2 0zM1628.3 1213.5a18.6 18.6 0 1 0 37.2 0a18.6 18.6 0 1 0 -37.2 0zM1638.5 1215a18.6 18.6 0 1 0 37.2 0a18.6 18.6 0 1 0 -37.2 0zM1648.7 1216.4a18.6 18.6 0 1 0 37.2 0a18.6 18.6 0 1 0 -37.2 0zM1658.9 1217.8a18.6 18.6 0 1 0 37.2 0a18.6 18.6 0 1 0 -37.2 0zM1669.1 1219.3a18.6 18.6 0 1 0 37.2 0a18.6 18.6 0 1 0 -37.2 0zM1679.3 1220.7a18.6 18.6 0 1 0 37.2 0a18.6 18.6 0 1 0 -37.2 0zM1689.5 1222.2a18.6 18.6 0 1 0 37.2 0a18.6 18.6 0 1 0 -37.2 0zM1699.7 1223.5a18.6 18.6 0 1 0 37.2 0a18.6 18.6 0 1 0 -37.2 0zM1710 1224.9a18.6 18.6 0 1 0 37.2 0a18.6 18.6 0 1 0 -37.2 0zM1720.2 1226.2a18.6 18.6 0 1 0 37.2 0a18.6 18.6 0 1 0 -37.2 0zM1730.4 1227.4a18.6 18.6 0 1 0 37.2 0a18.6 18.6 0 1 0 -37.2 0zM1740.6 1228.6a18.6 18.6 0 1 0 37.2 0a18.6 18.6 0 1 0 -37.2 0zM1750.8 1229.8a18.6 18.6 0 1 0 37.2 0a18.6 18.6 0 1 0 -37.2 0zM1761 1230.8a18.6 18.6 0 1 0 37.2 0a18.6 18.6 0 1 0 -37.2 0zM1771.2 1231.7a18.6 18.6 0 1 0 37.2 0a18.6 18.6 0 1 0 -37.2 0zM1781.4 1232.6a18.6 18.6 0 1 0 37.2 0a18.6 18.6 0 1 0 -37.2 0zM1791.6 1233.5a18.6 18.6 0 1 0 37.2 0a18.6 18.6 0 1 0 -37.2 0zM1801.8 1234.4a18.6 18.6 0 1 0 37.2 0a18.6 18.6 0 1 0 -37.2 0zM1812 1235.2a18.6 18.6 0 1 0 37.2 0a18.6 18.6 0 1 0 -37.2 0zM1822.2 1235.9a18.6 18.6 0 1 0 37.2 0a18.6 18.6 0 1 0 -37.2 0zM1832.4 1236.5a18.6 18.6 0 1 0 37.2 0a18.6 18.6 0 1 0 -37.2 0zM1842.7 1236.9a18.6 18.6 0 1 0 37.2 0a18.6 18.6 0 1 0 -37.2 0zM1852.9 1237.1a18.6 18.6 0 1 0 37.2 0a18.6 18.6 0 1 0 -37.2 0zM1863.1 1237.2a18.6 18.6 0 1 0 37.2 0a18.6 18.6 0 1 0 -37.2 0zM1873.3 1237.3a18.6 18.6 0 1 0 37.2 0a18.6 18.6 0 1 0 -37.2 0zM1883.5 1237.4a18.6 18.6 0 1 0 37.2 0a18.6 18.6 0 1 0 -37.2 0zM1893.7 1237.5a18.6 18.6 0 1 0 37.2 0a18.6 18.6 0 1 0 -37.2 0zM1903.9 1237.6a18.6 18.6 0 1 0 37.2 0a18.6 18.6 0 1 0 -37.2 0zM1914.1 1237.6a18.6 18.6 0 1 0 37.2 0a18.6 18.6 0 1 0 -37.2 0zM1924.3 1237.6a18.6 18.6 0 1 0 37.2 0a18.6 18.6 0 1 0 -37.2 0zM1934.5 1237.6a18.6 18.6 0 1 0 37.2 0a18.6 18.6 0 1 0 -37.2 0zM1944.7 1237.4a18.6 18.6 0 1 0 37.2 0a18.6 18.6 0 1 0 -37.2 0zM1954.9 1237.1a18.6 18.6 0 1 0 37.2 0a18.6 18.6 0 1 0 -37.2 0zM1965.2 1236.7a18.6 18.6 0 1 0 37.2 0a18.6 18.6 0 1 0 -37.2 0zM1975.4 1232.9a18.6 18.6 0 1 0 37.2 0a18.6 18.6 0 1 0 -37.2 0zM1985.6 1216.4a18.6 18.6 0 1 0 37.2 0a18.6 18.6 0 1 0 -37.2 0zM1995.8 1192.4a18.6 18.6 0 1 0 37.2 0a18.6 18.6 0 1 0 -37.2 0zM2006 1097a18.6 18.6 0 1 0 37.2 0a18.6 18.6 0 1 0 -37.2 0zM2016.2 754.1a18.6 18.6 0 1 0 37.2 0a18.6 18.6 0 1 0 -37.2 0zM2026.4 480.6a18.6 18.6 0 1 0 37.2 0a18.6 18.6 0 1 0 -37.2 0z" fill="#f00"/>
<polyline points="392.2,1151.8 402.8,1150 413.5,1148.4 424.1,1147.1 434.7,1145.9 445.2,1145.1 455.8,1144.3 466.4,1143.6 476.9,1143.1 487.4,1142.9 498,1143 508.5,1143.4 519,1144 529.4,1144.8 539.9,1145.7 550.4,1146.6 560.8,1147.6 571.3,1148.6 581.7,1149.7 592.1,1151 602.5,1152.5 612.9,1154 623.3,1155.6 633.7,1157.3 644,1159.1 654.4,1161.1 664.7,1163.4 675.1,1165.8 685.4,1168.3 695.7,1170.8 706,1173.1 716.3,1175.3 726.6,1177.5 736.9,1179.7 747.2,1181.9 757.5,1184 767.8,1186.1 778,1188.1 788.3,1190 798.5,1191.8 808.7,1193.6 819,1195.3 829.2,1197 839.4,1198.6 849.6,1200.2 859.8,1201.6 870,1203 880.2,1204.1 890.4,1205.1 900.6,1205.8 910.7,1206.4 920.9,1207 931.1,1207.5 941.2,1207.9 951.3,1208.2 961.4,1208.6 971.6,1209 981.7,1209.2 991.8,1209.4 1001.8,1209.5 1011.9,1209 1021.9,1208.1 1032,1206.9 1042,1205.8 1052,1204.5 1062,1203 1072,1201.3 1081.9,1199.5 1091.9,1197.7 1101.8,1195.7 1111.7,1193.8 1121.6,1191.9 1131.5,1190 1141.4,1188 1151.3,1185.9 1161.1,1183.7 1170.9,1181.5 1180.8,1179.2 1190.6,1177 1200.4,1174.8 1210.2,1172.6 1220,1170.6 1229.8,1168.6 1239.6,1166.8 1249.3,1165.1 1259.1,1163.5 1268.9,1162 1278.7,1160.5 1288.5,1159 1298.2,1157.7 1308,1156.5 1317.8,1155.6 1327.5,1154.8 1337.3,1154.1 1347.1,1153.5 1356.8,1153 1366.6,1152.6 1376.4,1152.5 1386.1,1152.7 1395.9,1153.2 1405.7,1154 1415.4,1154.9 1425.2,1156 1434.9,1157.1 1444.7,1158.2 1454.5,1159.2 1464.2,1160.3 1474,1161.6 1483.8,1162.8 1493.5,1164.2 1503.3,1165.7 1513.1,1167.2 1522.8,1168.7 1532.6,1170.3 1542.4,1171.9 1552.2,1173.6 1562,1175.4 1571.8,1177.3 1581.6,1179.3 1591.4,1181.3 1601.2,1183.2 1611,1185.2 1620.9,1187.2 1630.7,1189.2 1640.5,1191.1 1650.4,1193 1660.2,1194.7 1670.1,1196.2 1680,1197.5 1689.9,1198.6 1699.8,1199.7 1709.7,1200.8 1719.6,1201.8 1729.6,1202.8 1739.5,1203.9 1749.5,1205.1 1759.5,1206.2 1769.6,1207.3 1779.6,1208 1789.6,1208.6 1799.7,1209.1 1809.8,1209.3 1819.9,1209.3 1830,1209.1 1840.2,1209 1850.3,1208.8 1860.5,1208.5 1870.7,1208 1880.8,1207.5 1891,1206.9 1901.3,1206.2 1911.5,1205.1 1921.7,1203.7 1932,1202 1942.2,1200.3 1952.5,1198.6 1962.8,1196.7 1973.1,1194.8 1983.4,1192.9 1993.7,1191 2004.1,1189.3 2014.4,1187.6 2024.8,1186 2035.1,1184.4 2045.5,1182.8" fill="none" stroke="#00f" stroke-width="2.6" stroke-linejoin="round"/>
<path d="M392.2 1126.6l22.3 37.8h-44.6zM402.8 1124.8l22.3 37.8h-44.6zM413.5 1123.2l22.3 37.8h-44.6zM424.1 1121.9l22.3 37.8h-44.6zM434.7 1120.7l22.3 37.8h-44.6zM445.2 1119.9l22.3 37.8h-44.6zM455.8 1119.1l22.3 37.8h-44.6zM466.4 1118.4l22.3 37.8h-44.6zM476.9 1117.9l22.3 37.8h-44.6zM487.4 1117.7l22.3 37.8h-44.6zM498 1117.8l22.3 37.8h-44.6zM508.5 1118.2l22.3 37.8h-44.6zM519 1118.8l22.3 37.8h-44.6zM529.4 1119.6l22.3 37.8h-44.6zM539.9 1120.5l22.3 37.8h-44.6zM550.4 1121.4l22.3 37.8h-44.6zM560.8 1122.4l22.3 37.8h-44.6zM571.3 1123.4l22.3 37.8h-44.6zM581.7 1124.5l22.3 37.8h-44.6zM592.1 1125.8l22.3 37.8h-44.6zM602.5 1127.3l22.3 37.8h-44.6zM612.9 1128.8l22.3 37.8h-44.6zM623.3 1130.4l22.3 37.8h-44.6zM633.7 1132.1l22.3 37.8h-44.6zM644 1133.9l22.3 37.8h-44.6zM654.4 1135.9l22.3 37.8h-44.6zM664.7 1138.2l22.3 37.8h-44.6zM675.1 1140.6l22.3 37.8h-44.6zM685.4 1143.1l22.3 37.8h-44.6zM695.7 1145.6l22.3 37.8h-44.6zM706 1147.9l22.3 37.8h-44.6zM716.3 1150.1l22.3 37.8h-44.6zM726.6 1152.3l22.3 37.8h-44.6zM736.9 1154.5l22.3 37.8h-44.6zM747.2 1156.7l22.3 37.8h-44.6zM757.5 1158.8l22.3 37.8h-44.6zM767.8 1160.9l22.3 37.8h-44.6zM778 1162.9l22.3 37.8h-44.6zM788.3 1164.8l22.3 37.8h-44.6zM798.5 1166.6l22.3 37.8h-44.6zM808.7 1168.4l22.3 37.8h-44.6zM819 1170.1l22.3 37.8h-44.6zM829.2 1171.8l22.3 37.8h-44.6zM839.4 1173.4l22.3 37.8h-44.6zM849.6 1175l22.3 37.8h-44.6zM859.8 1176.4l22.3 37.8h-44.6zM870 1177.8l22.3 37.8h-44.6zM880.2 1178.9l22.3 37.8h-44.6zM890.4 1179.9l22.3 37.8h-44.6zM900.6 1180.6l22.3 37.8h-44.6zM910.7 1181.2l22.3 37.8h-44.6zM920.9 1181.8l22.3 37.8h-44.6zM931.1 1182.3l22.3 37.8h-44.6zM941.2 1182.7l22.3 37.8h-44.6zM951.3 1183l22.3 37.8h-44.6zM961.4 1183.4l22.3 37.8h-44.6zM971.6 1183.8l22.3 37.8h-44.6zM981.7 1184l22.3 37.8h-44.6zM991.8 1184.2l22.3 37.8h-44.6zM1001.8 1184.3l22.3 37.8h-44.6zM1011.9 1183.8l22.3 37.8h-44.6zM1021.9 1182.9l22.3 37.8h-44.6zM1032 1181.7l22.3 37.8h-44.6zM1042 1180.6l22.3 37.8h-44.6zM1052 1179.3l22.3 37.8h-44.6zM1062 1177.8l22.3 37.8h-44.6zM1072 1176.1l22.3 37.8h-44.6zM1081.9 1174.3l22.3 37.8h-44.6zM1091.9 1172.5l22.3 37.8h-44.6zM1101.8 1170.5l22.3 37.8h-44.6zM1111.7 1168.6l22.3 37.8h-44.6zM1121.6 1166.7l22.3 37.8h-44.6zM1131.5 1164.8l22.3 37.8h-44.6zM1141.4 1162.8l22.3 37.8h-44.6zM1151.3 1160.7l22.3 37.8h-44.6zM1161.1 1158.5l22.3 37.8h-44.6zM1170.9 1156.3l22.3 37.8h-44.6zM1180.8 1154l22.3 37.8h-44.6zM1190.6 1151.8l22.3 37.8h-44.6zM1200.4 1149.6l22.3 37.8h-44.6zM1210.2 1147.4l22.3 37.8h-44.6zM1220 1145.4l22.3 37.8h-44.6zM1229.8 1143.4l22.3 37.8h-44.6zM1239.6 1141.6l22.3 37.8h-44.6zM1249.3 1139.9l22.3 37.8h-44.6zM1259.1 1138.3l22.3 37.8h-44.6zM1268.9 1136.8l22.3 37.8h-44.6zM1278.7 1135.3l22.3 37.8h-44.6zM1288.5 1133.8l22.3 37.8h-44.6zM1298.2 1132.5l22.3 37.8h-44.6zM1308 1131.3l22.3 37.8h-44.6zM1317.8 1130.4l22.3 37.8h-44.6zM1327.5 1129.6l22.3 37.8h-44.6zM1337.3 1128.9l22.3 37.8h-44.6zM1347.1 1128.3l22.3 37.8h-44.6zM1356.8 1127.8l22.3 37.8h-44.6zM1366.6 1127.4l22.3 37.8h-44.6zM1376.4 1127.3l22.3 37.8h-44.6zM1386.1 1127.5l22.3 37.8h-44.6zM1395.9 1128l22.3 37.8h-44.6zM1405.7 1128.8l22.3 37.8h-44.6zM1415.4 1129.7l22.3 37.8h-44.6zM1425.2 1130.8l22.3 37.8h-44.6zM1434.9 1131.9l22.3 37.8h-44.6zM1444.7 1133l22.3 37.8h-44.6zM1454.5 1134l22.3 37.8h-44.6zM1464.2 1135.1l22.3 37.8h-44.6zM1474 1136.4l22.3 37.8h-44.6zM1483.8 1137.6l22.3 37.8h-44.6zM1493.5 1139l22.3 37.8h-44.6zM1503.3 1140.5l22.3 37.8h-44.6zM1513.1 1142l22.3 37.8h-44.6zM1522.8 1143.5l22.3 37.8h-44.6zM1532.6 1145.1l22.3 37.8h-44.6zM1542.4 1146.7l22.3 37.8h-44.6zM1552.2 1148.4l22.3 37.8h-44.6zM1562 1150.2l22.3 37.8h-44.6zM1571.8 1152.1l22.3 37.8h-44.6zM1581.6 1154.1l22.3 37.8h-44.6zM1591.4 1156.1l22.3 37.8h-44.6zM1601.2 1158l22.3 37.8h-44.6zM1611 1160l22.3 37.8h-44.6zM1620.9 1162l22.3 37.8h-44.6zM1630.7 1164l22.3 37.8h-44.6zM1640.5 1165.9l22.3 37.8h-44.6zM1650.4 1167.8l22.3 37.8h-44.6zM1660.2 1169.5l22.3 37.8h-44.6zM1670.1 1171l22.3 37.8h-44.6zM1680 1172.3l22.3 37.8h-44.6zM1689.9 1173.4l22.3 37.8h-44.6zM1699.8 1174.5l22.3 37.8h-44.6zM1709.7 1175.6l22.3 37.8h-44.6zM1719.6 1176.6l22.3 37.8h-44.6zM1729.6 1177.6l22.3 37.8h-44.6zM1739.5 1178.7l22.3 37.8h-44.6zM1749.5 1179.9l22.3 37.8h-44.6zM1759.5 1181l22.3 37.8h-44.6zM1769.6 1182.1l22.3 37.8h-44.6zM1779.6 1182.8l22.3 37.8h-44.6zM1789.6 1183.4l22.3 37.8h-44.6zM1799.7 1183.9l22.3 37.8h-44.6zM1809.8 1184.1l22.3 37.8h-44.6zM1819.9 1184.1l22.3 37.8h-44.6zM1830 1183.9l22.3 37.8h-44.6zM1840.2 1183.8l22.3 37.8h-44.6zM1850.3 1183.6l22.3 37.8h-44.6zM1860.5 1183.3l22.3 37.8h-44.6zM1870.7 1182.8l22.3 37.8h-44.6zM1880.8 1182.3l22.3 37.8h-44.6zM1891 1181.7l22.3 37.8h-44.6zM1901.3 1181l22.3 37.8h-44.6zM1911.5 1179.9l22.3 37.8h-44.6zM1921.7 1178.5l22.3 37.8h-44.6zM1932 1176.8l22.3 37.8h-44.6zM1942.2 1175.1l22.3 37.8h-44.6zM1952.5 1173.4l22.3 37.8h-44.6zM1962.8 1171.5l22.3 37.8h-44.6zM1973.1 1169.6l22.3 37.8h-44.6zM1983.4 1167.7l22.3 37.8h-44.6zM1993.7 1165.8l22.3 37.8h-44.6zM2004.1 1164.1l22.3 37.8h-44.6zM2014.4 1162.4l22.3 37.8h-44.6zM2024.8 1160.8l22.3 37.8h-44.6zM2035.1 1159.2l22.3 37.8h-44.6zM2045.5 1157.6l22.3 37.8h-44.6z" fill="#00f"/>
<polyline points="392.2,1210.2 402.8,1210.2 413.5,1210.2 424.1,1210.2 434.7,1210.2 445.2,1210.2 455.8,1210.2 466.4,1210.2 476.9,1210.2 487.4,1210.2 498,1210.2 508.5,1210.2 519,1210.2 529.4,1210.2 539.9,1210.2 550.4,1210.2 560.8,1210.2 571.3,1210.2 581.7,1210.2 592.1,1210.2 602.5,1210.2 612.9,1210.2 623.3,1210.2 633.7,1210.2 644,1210.2 654.4,1210.2 664.7,1210.2 675.1,1210.2 685.4,1210.2 695.7,1210.2 706,1210.2 716.3,1210.2 726.6,1210.2 736.9,1210.2 747.2,1210.2 757.5,1210.2 767.8,1210.2 778,1210.2 788.3,1210.2 798.5,1210.2 808.7,1210.2 819,1210.2 829.2,1210.2 839.4,1210.2 849.6,1210.2 859.8,1210.2 870,1210.2 880.2,1210.2 890.4,1210.2 900.6,1210.2 910.7,1210.2 920.9,1210.2 931.1,1210.2 941.2,1210.2 951.3,1210.2 961.4,1210.2 971.6,1210.2 981.7,1210.2 991.8,1210.2 1001.8,1210.2 1011.9,1210.2 1021.9,1210.2 1032,1210.2 1042,1210.2 1052,1210.2 1062,1210.2 1072,1210.2 1081.9,1210.2 1091.9,1210.2 1101.8,1210.2 1111.7,1210.2 1121.6,1210.2 1131.5,1210.2 1141.4,1210.2 1151.3,1210.2 1161.1,1210.2 1170.9,1210.2 1180.8,1210.2 1190.6,1210.2 1200.4,1210.2 1210.2,1210.2 1220,1210.2 1229.8,1210.2 1239.6,1210.2 1249.3,1210.2 1259.1,1210.2 1268.9,1210.2 1278.7,1210.2 1288.5,1210.2 1298.2,1210.2 1308,1210.2 1317.8,1210.2 1327.5,1210.2 1337.3,1210.2 1347.1,1210.2 1356.8,1210.2 1366.6,1210.2 1376.4,1210.2 1386.1,1210.2 1395.9,1210.2 1405.7,1210.2 1415.4,1210.2 1425.2,1210.2 1434.9,1210.2 1444.7,1210.2 1454.5,1210.2 1464.2,1210.2 1474,1210.2 1483.8,1210.2 1493.5,1210.2 1503.3,1210.2 1513.1,1210.2 1522.8,1210.2 1532.6,1210.2 1542.4,1210.2 1552.2,1210.2 1562,1210.2 1571.8,1210.2 1581.6,1210.2 1591.4,1210.2 1601.2,1210.2 1611,1210.2 1620.9,1210.2 1630.7,1210.2 1640.5,1210.2 1650.4,1210.2 1660.2,1210.2 1670.1,1210.2 1680,1210.2 1689.9,1210.2 1699.8,1210.2 1709.7,1210.2 1719.6,1210.2 1729.6,1210.2 1739.5,1210.2 1749.5,1210.2 1759.5,1210.2 1769.6,1210.2 1779.6,1210.2 1789.6,1210.2 1799.7,1210.2 1809.8,1210.2 1819.9,1210.2 1830,1210.2 1840.2,1210.2 1850.3,1210.2 1860.5,1210.2 1870.7,1210.2 1880.8,1210.2 1891,1210.2 1901.3,1210.2 1911.5,1210.2 1921.7,1210.2 1932,1210.2 1942.2,1210.2 1952.5,1210.2 1962.8,1210.2 1973.1,1210.2 1983.4,1210.2 1993.7,1210.2 2004.1,1210.2 2014.4,1210.2 2024.8,1210.2 2035.1,1210.2 2045.5,1210.2" fill="none" stroke="#008080" stroke-width="2.6" stroke-linejoin="round"/>
<path d="M392.2 1235.4l22.3 -37.8h-44.6zM402.8 1235.4l22.3 -37.8h-44.6zM413.5 1235.4l22.3 -37.8h-44.6zM424.1 1235.4l22.3 -37.8h-44.6zM434.7 1235.4l22.3 -37.8h-44.6zM445.2 1235.4l22.3 -37.8h-44.6zM455.8 1235.4l22.3 -37.8h-44.6zM466.4 1235.4l22.3 -37.8h-44.6zM476.9 1235.4l22.3 -37.8h-44.6zM487.4 1235.4l22.3 -37.8h-44.6zM498 1235.4l22.3 -37.8h-44.6zM508.5 1235.4l22.3 -37.8h-44.6zM519 1235.4l22.3 -37.8h-44.6zM529.4 1235.4l22.3 -37.8h-44.6zM539.9 1235.4l22.3 -37.8h-44.6zM550.4 1235.4l22.3 -37.8h-44.6zM560.8 1235.4l22.3 -37.8h-44.6zM571.3 1235.4l22.3 -37.8h-44.6zM581.7 1235.4l22.3 -37.8h-44.6zM592.1 1235.4l22.3 -37.8h-44.6zM602.5 1235.4l22.3 -37.8h-44.6zM612.9 1235.4l22.3 -37.8h-44.6zM623.3 1235.4l22.3 -37.8h-44.6zM633.7 1235.4l22.3 -37.8h-44.6zM644 1235.4l22.3 -37.8h-44.6zM654.4 1235.4l22.3 -37.8h-44.6zM664.7 1235.4l22.3 -37.8h-44.6zM675.1 1235.4l22.3 -37.8h-44.6zM685.4 1235.4l22.3 -37.8h-44.6zM695.7 1235.4l22.3 -37.8h-44.6zM706 1235.4l22.3 -37.8h-44.6zM716.3 1235.4l22.3 -37.8h-44.6zM726.6 1235.4l22.3 -37.8h-44.6zM736.9 1235.4l22.3 -37.8h-44.6zM747.2 1235.4l22.3 -37.8h-44.6zM757.5 1235.4l22.3 -37.8h-44.6zM767.8 1235.4l22.3 -37.8h-44.6zM778 1235.4l22.3 -37.8h-44.6zM788.3 1235.4l22.3 -37.8h-44.6zM798.5 1235.4l22.3 -37.8h-44.6zM808.7 1235.4l22.3 -37.8h-44.6zM819 1235.4l22.3 -37.8h-44.6zM829.2 1235.4l22.3 -37.8h-44.6zM839.4 1235.4l22.3 -37.8h-44.6zM849.6 1235.4l22.3 -37.8h-44.6zM859.8 1235.4l22.3 -37.8h-44.6zM870 1235.4l22.3 -37.8h-44.6zM880.2 1235.4l22.3 -37.8h-44.6zM890.4 1235.4l22.3 -37.8h-44.6zM900.6 1235.4l22.3 -37.8h-44.6zM910.7 1235.4l22.3 -37.8h-44.6zM920.9 1235.4l22.3 -37.8h-44.6zM931.1 1235.4l22.3 -37.8h-44.6zM941.2 1235.4l22.3 -37.8h-44.6zM951.3 1235.4l22.3 -37.8h-44.6zM961.4 1235.4l22.3 -37.8h-44.6zM971.6 1235.4l22.3 -37.8h-44.6zM981.7 1235.4l22.3 -37.8h-44.6zM991.8 1235.4l22.3 -37.8h-44.6zM1001.8 1235.4l22.3 -37.8h-44.6zM1011.9 1235.4l22.3 -37.8h-44.6zM1021.9 1235.4l22.3 -37.8h-44.6zM1032 1235.4l22.3 -37.8h-44.6zM1042 1235.4l22.3 -37.8h-44.6zM1052 1235.4l22.3 -37.8h-44.6zM1062 1235.4l22.3 -37.8h-44.6zM1072 1235.4l22.3 -37.8h-44.6zM1081.9 1235.4l22.3 -37.8h-44.6zM1091.9 1235.4l22.3 -37.8h-44.6zM1101.8 1235.4l22.3 -37.8h-44.6zM1111.7 1235.4l22.3 -37.8h-44.6zM1121.6 1235.4l22.3 -37.8h-44.6zM1131.5 1235.4l22.3 -37.8h-44.6zM1141.4 1235.4l22.3 -37.8h-44.6zM1151.3 1235.4l22.3 -37.8h-44.6zM1161.1 1235.4l22.3 -37.8h-44.6zM1170.9 1235.4l22.3 -37.8h-44.6zM1180.8 1235.4l22.3 -37.8h-44.6zM1190.6 1235.4l22.3 -37.8h-44.6zM1200.4 1235.4l22.3 -37.8h-44.6zM1210.2 1235.4l22.3 -37.8h-44.6zM1220 1235.4l22.3 -37.8h-44.6zM1229.8 1235.4l22.3 -37.8h-44.6zM1239.6 1235.4l22.3 -37.8h-44.6zM1249.3 1235.4l22.3 -37.8h-44.6zM1259.1 1235.4l22.3 -37.8h-44.6zM1268.9 1235.4l22.3 -37.8h-44.6zM1278.7 1235.4l22.3 -37.8h-44.6zM1288.5 1235.4l22.3 -37.8h-44.6zM1298.2 1235.4l22.3 -37.8h-44.6zM1308 1235.4l22.3 -37.8h-44.6zM1317.8 1235.4l22.3 -37.8h-44.6zM1327.5 1235.4l22.3 -37.8h-44.6zM1337.3 1235.4l22.3 -37.8h-44.6zM1347.1 1235.4l22.3 -37.8h-44.6zM1356.8 1235.4l22.3 -37.8h-44.6zM1366.6 1235.4l22.3 -37.8h-44.6zM1376.4 1235.4l22.3 -37.8h-44.6zM1386.1 1235.4l22.3 -37.8h-44.6zM1395.9 1235.4l22.3 -37.8h-44.6zM1405.7 1235.4l22.3 -37.8h-44.6zM1415.4 1235.4l22.3 -37.8h-44.6zM1425.2 1235.4l22.3 -37.8h-44.6zM1434.9 1235.4l22.3 -37.8h-44.6zM1444.7 1235.4l22.3 -37.8h-44.6zM1454.5 1235.4l22.3 -37.8h-44.6zM1464.2 1235.4l22.3 -37.8h-44.6zM1474 1235.4l22.3 -37.8h-44.6zM1483.8 1235.4l22.3 -37.8h-44.6zM1493.5 1235.4l22.3 -37.8h-44.6zM1503.3 1235.4l22.3 -37.8h-44.6zM1513.1 1235.4l22.3 -37.8h-44.6zM1522.8 1235.4l22.3 -37.8h-44.6zM1532.6 1235.4l22.3 -37.8h-44.6zM1542.4 1235.4l22.3 -37.8h-44.6zM1552.2 1235.4l22.3 -37.8h-44.6zM1562 1235.4l22.3 -37.8h-44.6zM1571.8 1235.4l22.3 -37.8h-44.6zM1581.6 1235.4l22.3 -37.8h-44.6zM1591.4 1235.4l22.3 -37.8h-44.6zM1601.2 1235.4l22.3 -37.8h-44.6zM1611 1235.4l22.3 -37.8h-44.6zM1620.9 1235.4l22.3 -37.8h-44.6zM1630.7 1235.4l22.3 -37.8h-44.6zM1640.5 1235.4l22.3 -37.8h-44.6zM1650.4 1235.4l22.3 -37.8h-44.6zM1660.2 1235.4l22.3 -37.8h-44.6zM1670.1 1235.4l22.3 -37.8h-44.6zM1680 1235.4l22.3 -37.8h-44.6zM1689.9 1235.4l22.3 -37.8h-44.6zM1699.8 1235.4l22.3 -37.8h-44.6zM1709.7 1235.4l22.3 -37.8h-44.6zM1719.6 1235.4l22.3 -37.8h-44.6zM1729.6 1235.4l22.3 -37.8h-44.6zM1739.5 1235.4l22.3 -37.8h-44.6zM1749.5 1235.4l22.3 -37.8h-44.6zM1759.5 1235.4l22.3 -37.8h-44.6zM1769.6 1235.4l22.3 -37.8h-44.6zM1779.6 1235.4l22.3 -37.8h-44.6zM1789.6 1235.4l22.3 -37.8h-44.6zM1799.7 1235.4l22.3 -37.8h-44.6zM1809.8 1235.4l22.3 -37.8h-44.6zM1819.9 1235.4l22.3 -37.8h-44.6zM1830 1235.4l22.3 -37.8h-44.6zM1840.2 1235.4l22.3 -37.8h-44.6zM1850.3 1235.4l22.3 -37.8h-44.6zM1860.5 1235.4l22.3 -37.8h-44.6zM1870.7 1235.4l22.3 -37.8h-44.6zM1880.8 1235.4l22.3 -37.8h-44.6zM1891 1235.4l22.3 -37.8h-44.6zM1901.3 1235.4l22.3 -37.8h-44.6zM1911.5 1235.4l22.3 -37.8h-44.6zM1921.7 1235.4l22.3 -37.8h-44.6zM1932 1235.4l22.3 -37.8h-44.6zM1942.2 1235.4l22.3 -37.8h-44.6zM1952.5 1235.4l22.3 -37.8h-44.6zM1962.8 1235.4l22.3 -37.8h-44.6zM1973.1 1235.4l22.3 -37.8h-44.6zM1983.4 1235.4l22.3 -37.8h-44.6zM1993.7 1235.4l22.3 -37.8h-44.6zM2004.1 1235.4l22.3 -37.8h-44.6zM2014.4 1235.4l22.3 -37.8h-44.6zM2024.8 1235.4l22.3 -37.8h-44.6zM2035.1 1235.4l22.3 -37.8h-44.6zM2045.5 1235.4l22.3 -37.8h-44.6z" fill="#008080"/>
<polyline points="392.2,1274.5 402.8,1274.5 413.5,1274.5 424.1,1274.5 434.7,1274.5 445.2,1274.5 455.8,1274.5 466.4,1274.5 476.9,1274.5 487.4,1274.5 498,1274.5 508.5,1274.5 519,1274.5 529.4,1274.5 539.9,1274.5 550.4,1274.5 560.8,1274.5 571.3,1274.5 581.7,1274.5 592.1,1274.5 602.5,1274.5 612.9,1274.5 623.3,1274.5 633.7,1274.5 644,1274.5 654.4,1274.5 664.7,1274.5 675.1,1274.5 685.4,1274.5 695.7,1274.5 706,1274.5 716.3,1274.5 726.6,1274.5 736.9,1274.5 747.2,1274.5 757.5,1274.5 767.8,1274.5 778,1274.5 788.3,1274.5 798.5,1274.5 808.7,1274.5 819,1274.5 829.2,1274.5 839.4,1274.5 849.6,1274.5 859.8,1274.5 870,1274.5 880.2,1274.5 890.4,1274.5 900.6,1274.5 910.7,1274.5 920.9,1274.5 931.1,1274.5 941.2,1274.5 951.3,1274.5 961.4,1274.5 971.6,1274.5 981.7,1274.5 991.8,1274.5 1001.8,1274.5 1011.9,1274.5 1021.9,1274.5 1032,1274.5 1042,1274.5 1052,1274.5 1062,1274.5 1072,1274.5 1081.9,1274.5 1091.9,1274.5 1101.8,1274.5 1111.7,1274.5 1121.6,1274.5 1131.5,1274.5 1141.4,1274.5 1151.3,1274.5 1161.1,1274.5 1170.9,1274.5 1180.8,1274.5 1190.6,1274.5 1200.4,1274.5 1210.2,1274.5 1220,1274.5 1229.8,1274.5 1239.6,1274.5 1249.3,1274.5 1259.1,1274.5 1268.9,1274.5 1278.7,1274.5 1288.5,1274.5 1298.2,1274.5 1308,1274.5 1317.8,1274.5 1327.5,1274.5 1337.3,1274.5 1347.1,1274.5 1356.8,1274.5 1366.6,1274.5 1376.4,1274.5 1386.1,1274.5 1395.9,1274.5 1405.7,1274.5 1415.4,1274.5 1425.2,1274.5 1434.9,1274.5 1444.7,1274.5 1454.5,1274.5 1464.2,1274.5 1474,1274.5 1483.8,1274.5 1493.5,1274.5 1503.3,1274.5 1513.1,1274.5 1522.8,1274.5 1532.6,1274.5 1542.4,1274.5 1552.2,1274.5 1562,1274.5 1571.8,1274.5 1581.6,1274.5 1591.4,1274.5 1601.2,1274.5 1611,1274.5 1620.9,1274.5 1630.7,1274.5 1640.5,1274.5 1650.4,1274.5 1660.2,1274.5 1670.1,1274.5 1680,1274.5 1689.9,1274.5 1699.8,1274.5 1709.7,1274.5 1719.6,1274.5 1729.6,1274.5 1739.5,1274.5 1749.5,1274.5 1759.5,1274.5 1769.6,1274.5 1779.6,1274.5 1789.6,1274.5 1799.7,1274.5 1809.8,1274.5 1819.9,1274.5 1830,1274.5 1840.2,1274.5 1850.3,1274.5 1860.5,1274.5 1870.7,1274.5 1880.8,1274.5 1891,1274.5 1901.3,1274.5 1911.5,1274.5 1921.7,1274.5 1932,1274.5 1942.2,1274.5 1952.5,1274.5 1962.8,1274.5 1973.1,1274.5 1983.4,1274.5 1993.7,1274.5 2004.1,1274.5 2014.4,1274.5 2024.8,1274.5 2035.1,1274.5 2045.5,1274.5" fill="none" stroke="#f0f" stroke-width="2.6" stroke-linejoin="round"/>
<path d="M367.2 1274.5l37.6 -21.4v42.8zM377.8 1274.5l37.6 -21.4v42.8zM388.5 1274.5l37.6 -21.4v42.8zM399.1 1274.5l37.6 -21.4v42.8zM409.7 1274.5l37.6 -21.4v42.8zM420.2 1274.5l37.6 -21.4v42.8zM430.8 1274.5l37.6 -21.4v42.8zM441.4 1274.5l37.6 -21.4v42.8zM451.9 1274.5l37.6 -21.4v42.8zM462.4 1274.5l37.6 -21.4v42.8zM473 1274.5l37.6 -21.4v42.8zM483.5 1274.5l37.6 -21.4v42.8zM494 1274.5l37.6 -21.4v42.8zM504.4 1274.5l37.6 -21.4v42.8zM514.9 1274.5l37.6 -21.4v42.8zM525.4 1274.5l37.6 -21.4v42.8zM535.8 1274.5l37.6 -21.4v42.8zM546.3 1274.5l37.6 -21.4v42.8zM556.7 1274.5l37.6 -21.4v42.8zM567.1 1274.5l37.6 -21.4v42.8zM577.5 1274.5l37.6 -21.4v42.8zM587.9 1274.5l37.6 -21.4v42.8zM598.3 1274.5l37.6 -21.4v42.8zM608.7 1274.5l37.6 -21.4v42.8zM619 1274.5l37.6 -21.4v42.8zM629.4 1274.5l37.6 -21.4v42.8zM639.7 1274.5l37.6 -21.4v42.8zM650.1 1274.5l37.6 -21.4v42.8zM660.4 1274.5l37.6 -21.4v42.8zM670.7 1274.5l37.6 -21.4v42.8zM681 1274.5l37.6 -21.4v42.8zM691.3 1274.5l37.6 -21.4v42.8zM701.6 1274.5l37.6 -21.4v42.8zM711.9 1274.5l37.6 -21.4v42.8zM722.2 1274.5l37.6 -21.4v42.8zM732.5 1274.5l37.6 -21.4v42.8zM742.8 1274.5l37.6 -21.4v42.8zM753 1274.5l37.6 -21.4v42.8zM763.3 1274.5l37.6 -21.4v42.8zM773.5 1274.5l37.6 -21.4v42.8zM783.7 1274.5l37.6 -21.4v42.8zM794 1274.5l37.6 -21.4v42.8zM804.2 1274.5l37.6 -21.4v42.8zM814.4 1274.5l37.6 -21.4v42.8zM824.6 1274.5l37.6 -21.4v42.8zM834.8 1274.5l37.6 -21.4v42.8zM845 1274.5l37.6 -21.4v42.8zM855.2 1274.5l37.6 -21.4v42.8zM865.4 1274.5l37.6 -21.4v42.8zM875.6 1274.5l37.6 -21.4v42.8zM885.7 1274.5l37.6 -21.4v42.8zM895.9 1274.5l37.6 -21.4v42.8zM906.1 1274.5l37.6 -21.4v42.8zM916.2 1274.5l37.6 -21.4v42.8zM926.3 1274.5l37.6 -21.4v42.8zM936.4 1274.5l37.6 -21.4v42.8zM946.6 1274.5l37.6 -21.4v42.8zM956.7 1274.5l37.6 -21.4v42.8zM966.8 1274.5l37.6 -21.4v42.8zM976.8 1274.5l37.6 -21.4v42.8zM986.9 1274.5l37.6 -21.4v42.8zM996.9 1274.5l37.6 -21.4v42.8zM1007 1274.5l37.6 -21.4v42.8zM1017 1274.5l37.6 -21.4v42.8zM1027 1274.5l37.6 -21.4v42.8zM1037 1274.5l37.6 -21.4v42.8zM1047 1274.5l37.6 -21.4v42.8zM1056.9 1274.5l37.6 -21.4v42.8zM1066.9 1274.5l37.6 -21.4v42.8zM1076.8 1274.5l37.6 -21.4v42.8zM1086.7 1274.5l37.6 -21.4v42.8zM1096.6 1274.5l37.6 -21.4v42.8zM1106.5 1274.5l37.6 -21.4v42.8zM1116.4 1274.5l37.6 -21.4v42.8zM1126.3 1274.5l37.6 -21.4v42.8zM1136.1 1274.5l37.6 -21.4v42.8zM1145.9 1274.5l37.6 -21.4v42.8zM1155.8 1274.5l37.6 -21.4v42.8zM1165.6 1274.5l37.6 -21.4v42.8zM1175.4 1274.5l37.6 -21.4v42.8zM1185.2 1274.5l37.6 -21.4v42.8zM1195 1274.5l37.6 -21.4v42.8zM1204.8 1274.5l37.6 -21.4v42.8zM1214.6 1274.5l37.6 -21.4v42.8zM1224.3 1274.5l37.6 -21.4v42.8zM1234.1 1274.5l37.6 -21.4v42.8zM1243.9 1274.5l37.6 -21.4v42.8zM1253.7 1274.5l37.6 -21.4v42.8zM1263.5 1274.5l37.6 -21.4v42.8zM1273.2 1274.5l37.6 -21.4v42.8zM1283 1274.5l37.6 -21.4v42.8zM1292.8 1274.5l37.6 -21.4v42.8zM1302.5 1274.5l37.6 -21.4v42.8zM1312.3 1274.5l37.6 -21.4v42.8zM1322.1 1274.5l37.6 -21.4v42.8zM1331.8 1274.5l37.6 -21.4v42.8zM1341.6 1274.5l37.6 -21.4v42.8zM1351.4 1274.5l37.6 -21.4v42.8zM1361.1 1274.5l37.6 -21.4v42.8zM1370.9 1274.5l37.6 -21.4v42.8zM1380.7 1274.5l37.6 -21.4v42.8zM1390.4 1274.5l37.6 -21.4v42.8zM1400.2 1274.5l37.6 -21.4v42.8zM1409.9 1274.5l37.6 -21.4v42.8zM1419.7 1274.5l37.6 -21.4v42.8zM1429.5 1274.5l37.6 -21.4v42.8zM1439.2 1274.5l37.6 -21.4v42.8zM1449 1274.5l37.6 -21.4v42.8zM1458.8 1274.5l37.6 -21.4v42.8zM1468.5 1274.5l37.6 -21.4v42.8zM1478.3 1274.5l37.6 -21.4v42.8zM1488.1 1274.5l37.6 -21.4v42.8zM1497.8 1274.5l37.6 -21.4v42.8zM1507.6 1274.5l37.6 -21.4v42.8zM1517.4 1274.5l37.6 -21.4v42.8zM1527.2 1274.5l37.6 -21.4v42.8zM1537 1274.5l37.6 -21.4v42.8zM1546.8 1274.5l37.6 -21.4v42.8zM1556.6 1274.5l37.6 -21.4v42.8zM1566.4 1274.5l37.6 -21.4v42.8zM1576.2 1274.5l37.6 -21.4v42.8zM1586 1274.5l37.6 -21.4v42.8zM1595.9 1274.5l37.6 -21.4v42.8zM1605.7 1274.5l37.6 -21.4v42.8zM1615.5 1274.5l37.6 -21.4v42.8zM1625.4 1274.5l37.6 -21.4v42.8zM1635.2 1274.5l37.6 -21.4v42.8zM1645.1 1274.5l37.6 -21.4v42.8zM1655 1274.5l37.6 -21.4v42.8zM1664.9 1274.5l37.6 -21.4v42.8zM1674.8 1274.5l37.6 -21.4v42.8zM1684.7 1274.5l37.6 -21.4v42.8zM1694.6 1274.5l37.6 -21.4v42.8zM1704.6 1274.5l37.6 -21.4v42.8zM1714.5 1274.5l37.6 -21.4v42.8zM1724.5 1274.5l37.6 -21.4v42.8zM1734.5 1274.5l37.6 -21.4v42.8zM1744.6 1274.5l37.6 -21.4v42.8zM1754.6 1274.5l37.6 -21.4v42.8zM1764.6 1274.5l37.6 -21.4v42.8zM1774.7 1274.5l37.6 -21.4v42.8zM1784.8 1274.5l37.6 -21.4v42.8zM1794.9 1274.5l37.6 -21.4v42.8zM1805 1274.5l37.6 -21.4v42.8zM1815.2 1274.5l37.6 -21.4v42.8zM1825.3 1274.5l37.6 -21.4v42.8zM1835.5 1274.5l37.6 -21.4v42.8zM1845.7 1274.5l37.6 -21.4v42.8zM1855.8 1274.5l37.6 -21.4v42.8zM1866 1274.5l37.6 -21.4v42.8zM1876.3 1274.5l37.6 -21.4v42.8zM1886.5 1274.5l37.6 -21.4v42.8zM1896.7 1274.5l37.6 -21.4v42.8zM1907 1274.5l37.6 -21.4v42.8zM1917.2 1274.5l37.6 -21.4v42.8zM1927.5 1274.5l37.6 -21.4v42.8zM1937.8 1274.5l37.6 -21.4v42.8zM1948.1 1274.5l37.6 -21.4v42.8zM1958.4 1274.5l37.6 -21.4v42.8zM1968.7 1274.5l37.6 -21.4v42.8zM1979.1 1274.5l37.6 -21.4v42.8zM1989.4 1274.5l37.6 -21.4v42.8zM1999.8 1274.5l37.6 -21.4v42.8zM2010.1 1274.5l37.6 -21.4v42.8zM2020.5 1274.5l37.6 -21.4v42.8z" fill="#f0f"/>
</g>
<g stroke="#000" stroke-linecap="round" fill="none">
<line x1="230.0" y1="25.4" x2="2182.5" y2="25.4" stroke-width="6.6"/>
<line x1="230.0" y1="1478.4" x2="2182.5" y2="1478.4" stroke-width="6.6"/>
<line x1="230.0" y1="25.4" x2="230.0" y2="1478.4" stroke-width="6.2"/>
<line x1="2182.5" y1="25.4" x2="2182.5" y2="1478.4" stroke-width="6.6"/>
<line x1="229.5" y1="1478.4" x2="202" y2="1478.4" stroke-width="6.6"/>
<line x1="229.5" y1="1392.9" x2="215.8" y2="1392.9" stroke-width="6.6"/>
<line x1="229.5" y1="1307.5" x2="202" y2="1307.5" stroke-width="6.6"/>
<line x1="229.5" y1="1222" x2="215.8" y2="1222" stroke-width="6.6"/>
<line x1="229.5" y1="1136.5" x2="202" y2="1136.5" stroke-width="6.6"/>
<line x1="229.5" y1="1051" x2="215.8" y2="1051" stroke-width="6.6"/>
<line x1="229.5" y1="965.6" x2="202" y2="965.6" stroke-width="6.6"/>
<line x1="229.5" y1="880.1" x2="215.8" y2="880.1" stroke-width="6.6"/>
<line x1="229.5" y1="794.6" x2="202" y2="794.6" stroke-width="6.6"/>
<line x1="229.5" y1="709.2" x2="215.8" y2="709.2" stroke-width="6.6"/>
<line x1="229.5" y1="623.7" x2="202" y2="623.7" stroke-width="6.6"/>
<line x1="229.5" y1="538.2" x2="215.8" y2="538.2" stroke-width="6.6"/>
<line x1="229.5" y1="452.8" x2="202" y2="452.8" stroke-width="6.6"/>
<line x1="229.5" y1="367.3" x2="215.8" y2="367.3" stroke-width="6.6"/>
<line x1="229.5" y1="281.8" x2="202" y2="281.8" stroke-width="6.6"/>
<line x1="229.5" y1="196.3" x2="215.8" y2="196.3" stroke-width="6.6"/>
<line x1="229.5" y1="110.9" x2="202" y2="110.9" stroke-width="6.6"/>
<line x1="229.5" y1="25.4" x2="215.8" y2="25.4" stroke-width="6.6"/>
<line x1="230" y1="1478.4" x2="230" y2="1492.6" stroke-width="6.2"/>
<line x1="392.7" y1="1478.4" x2="392.7" y2="1506.4" stroke-width="6.2"/>
<line x1="555.4" y1="1478.4" x2="555.4" y2="1492.6" stroke-width="6.2"/>
<line x1="718.1" y1="1478.4" x2="718.1" y2="1506.4" stroke-width="6.2"/>
<line x1="880.8" y1="1478.4" x2="880.8" y2="1492.6" stroke-width="6.2"/>
<line x1="1043.5" y1="1478.4" x2="1043.5" y2="1506.4" stroke-width="6.2"/>
<line x1="1206.2" y1="1478.4" x2="1206.2" y2="1492.6" stroke-width="6.2"/>
<line x1="1369" y1="1478.4" x2="1369" y2="1506.4" stroke-width="6.2"/>
<line x1="1531.7" y1="1478.4" x2="1531.7" y2="1492.6" stroke-width="6.2"/>
<line x1="1694.4" y1="1478.4" x2="1694.4" y2="1506.4" stroke-width="6.2"/>
<line x1="1857.1" y1="1478.4" x2="1857.1" y2="1492.6" stroke-width="6.2"/>
<line x1="2019.8" y1="1478.4" x2="2019.8" y2="1506.4" stroke-width="6.2"/>
<line x1="2182.5" y1="1478.4" x2="2182.5" y2="1492.6" stroke-width="6.2"/>
<line x1="230" y1="25.4" x2="230" y2="53.4" stroke-width="6.2"/>
<line x1="425.2" y1="25.4" x2="425.2" y2="39.6" stroke-width="6.2"/>
<line x1="620.5" y1="25.4" x2="620.5" y2="53.4" stroke-width="6.2"/>
<line x1="815.8" y1="25.4" x2="815.8" y2="39.6" stroke-width="6.2"/>
<line x1="1011" y1="25.4" x2="1011" y2="53.4" stroke-width="6.2"/>
<line x1="1206.2" y1="25.4" x2="1206.2" y2="39.6" stroke-width="6.2"/>
<line x1="1401.5" y1="25.4" x2="1401.5" y2="53.4" stroke-width="6.2"/>
<line x1="1596.8" y1="25.4" x2="1596.8" y2="39.6" stroke-width="6.2"/>
<line x1="1792" y1="25.4" x2="1792" y2="53.4" stroke-width="6.2"/>
<line x1="1987.2" y1="25.4" x2="1987.2" y2="39.6" stroke-width="6.2"/>
<line x1="2182.5" y1="25.4" x2="2182.5" y2="53.4" stroke-width="6.2"/>
<line x1="2182.5" y1="25.4" x2="2154.5" y2="25.4" stroke-width="6"/>
<line x1="2182.5" y1="170.7" x2="2168.3" y2="170.7" stroke-width="6"/>
<line x1="2182.5" y1="316" x2="2154.5" y2="316" stroke-width="6"/>
<line x1="2182.5" y1="461.3" x2="2168.3" y2="461.3" stroke-width="6"/>
<line x1="2182.5" y1="606.6" x2="2154.5" y2="606.6" stroke-width="6"/>
<line x1="2182.5" y1="751.9" x2="2168.3" y2="751.9" stroke-width="6"/>
<line x1="2182.5" y1="897.2" x2="2154.5" y2="897.2" stroke-width="6"/>
<line x1="2182.5" y1="1042.5" x2="2168.3" y2="1042.5" stroke-width="6"/>
<line x1="2182.5" y1="1187.8" x2="2154.5" y2="1187.8" stroke-width="6"/>
<line x1="2182.5" y1="1333.1" x2="2168.3" y2="1333.1" stroke-width="6"/>
<line x1="2182.5" y1="1478.4" x2="2154.5" y2="1478.4" stroke-width="6"/>
</g>
<g font-size="55">
<text x="183.5" y="1494.4" text-anchor="end">12</text>
<text x="183.5" y="1323.5" text-anchor="end">14</text>
<text x="183.5" y="1152.5" text-anchor="end">16</text>
<text x="183.5" y="981.6" text-anchor="end">18</text>
<text x="183.5" y="810.6" text-anchor="end">20</text>
<text x="183.5" y="639.7" text-anchor="end">22</text>
<text x="183.5" y="468.8" text-anchor="end">24</text>
<text x="183.5" y="297.8" text-anchor="end">26</text>
<text x="183.5" y="126.9" text-anchor="end">28</text>
<text x="392.7" y="1568.6" text-anchor="middle">0</text>
<text x="718.1" y="1568.6" text-anchor="middle">10</text>
<text x="1043.5" y="1568.6" text-anchor="middle">20</text>
<text x="1369" y="1568.6" text-anchor="middle">30</text>
<text x="1694.4" y="1568.6" text-anchor="middle">40</text>
<text x="2019.8" y="1568.6" text-anchor="middle">50</text>
</g>
<text x="1207.8" y="1677.6" font-size="69.3" text-anchor="middle">Wafer Length (mm)</text>
<text transform="translate(73,797.5) rotate(-90)" font-size="68.7" text-anchor="middle">Growth rate (GaN) (um / hr)</text>
<rect x="1388.8" y="157.6" width="465.3" height="431.7" fill="#fff" stroke="#000" stroke-width="3"/>
<line x1="1432.2" y1="213.7" x2="1585.2" y2="213.7" stroke="#000" stroke-width="3.7" stroke-linecap="round"/>
<rect x="1491.7" y="197.5" width="33.2" height="32.4" fill="#000"/>
<text x="1604" y="236.8" font-size="69">n = 10</text>
<line x1="1432.2" y1="297.8" x2="1585.2" y2="297.8" stroke="#f00" stroke-width="3.7" stroke-linecap="round"/>
<circle cx="1508.3" cy="297.8" r="18.35" fill="#f00"/>
<text x="1604" y="320.9" font-size="69">n = 20</text>
<line x1="1432.2" y1="381.8" x2="1585.2" y2="381.8" stroke="#00f" stroke-width="3.7" stroke-linecap="round"/>
<path d="M1508.3 356.8l22.5 37.6h-45z" fill="#00f"/>
<text x="1604" y="404.9" font-size="69">n = 40</text>
<line x1="1432.2" y1="465.8" x2="1585.2" y2="465.8" stroke="#008080" stroke-width="3.7" stroke-linecap="round"/>
<path d="M1508.3 490.8l22.5 -37.6h-45z" fill="#008080"/>
<text x="1604" y="488.9" font-size="69">n = 80</text>
<line x1="1432.2" y1="549.9" x2="1585.2" y2="549.9" stroke="#f0f" stroke-width="3.7" stroke-linecap="round"/>
<path d="M1482.7 549.9l38.4 -22.1v44.2z" fill="#f0f"/>
<text x="1604" y="573" font-size="69">n = 160</text>
</svg></body></html>
